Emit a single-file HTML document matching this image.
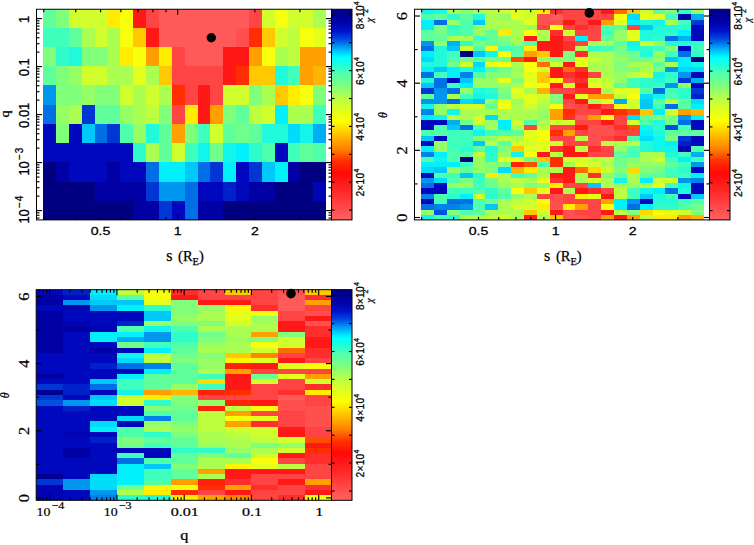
<!DOCTYPE html>
<html><head><meta charset="utf-8"><title>chi2 maps</title>
<style>html,body{margin:0;padding:0;background:#fff}svg{display:block}</style></head>
<body><svg width="754" height="545" viewBox="0 0 754 545">
<rect width="754" height="545" fill="#fff"/>
<clipPath id="c1"><rect x="36.5" y="9.25" width="295" height="210.65"/></clipPath>
<g clip-path="url(#c1)" shape-rendering="crispEdges">
<rect x="43.15" y="8.25" width="13.16" height="19.55" fill="#5fff9b"/>
<rect x="56.01" y="8.25" width="13.16" height="19.55" fill="#80ff7a"/>
<rect x="68.88" y="8.25" width="38.89" height="19.55" fill="#d0ff2d"/>
<rect x="107.47" y="8.25" width="13.16" height="19.55" fill="#ffec00"/>
<rect x="120.33" y="8.25" width="13.16" height="19.55" fill="#f8ff0c"/>
<rect x="133.2" y="8.25" width="13.16" height="19.55" fill="#ff1816"/>
<rect x="146.06" y="8.25" width="13.16" height="19.55" fill="#ff4444"/>
<rect x="158.93" y="8.25" width="90.35" height="19.55" fill="#ff5a5a"/>
<rect x="248.97" y="8.25" width="13.16" height="19.55" fill="#ff4444"/>
<rect x="261.84" y="8.25" width="13.16" height="19.55" fill="#d0ff2d"/>
<rect x="274.7" y="8.25" width="13.16" height="19.55" fill="#f8ff0c"/>
<rect x="287.57" y="8.25" width="26.03" height="19.55" fill="#d0ff2d"/>
<rect x="313.29" y="8.25" width="13.16" height="19.55" fill="#aaff50"/>
<rect x="43.15" y="27.5" width="26.03" height="19.55" fill="#3effbc"/>
<rect x="68.88" y="27.5" width="13.16" height="19.55" fill="#5fff9b"/>
<rect x="81.74" y="27.5" width="13.16" height="19.55" fill="#aaff50"/>
<rect x="94.61" y="27.5" width="13.16" height="19.55" fill="#d0ff2d"/>
<rect x="107.47" y="27.5" width="13.16" height="19.55" fill="#aaff50"/>
<rect x="120.33" y="27.5" width="13.16" height="19.55" fill="#f8ff0c"/>
<rect x="133.2" y="27.5" width="13.16" height="19.55" fill="#ffc800"/>
<rect x="146.06" y="27.5" width="13.16" height="19.55" fill="#ff1816"/>
<rect x="158.93" y="27.5" width="77.48" height="19.55" fill="#ff5a5a"/>
<rect x="236.11" y="27.5" width="13.16" height="19.55" fill="#ff4f4f"/>
<rect x="248.97" y="27.5" width="13.16" height="19.55" fill="#ff2d00"/>
<rect x="261.84" y="27.5" width="13.16" height="19.55" fill="#ffc800"/>
<rect x="274.7" y="27.5" width="13.16" height="19.55" fill="#d0ff2d"/>
<rect x="287.57" y="27.5" width="13.16" height="19.55" fill="#bdff3e"/>
<rect x="300.43" y="27.5" width="13.16" height="19.55" fill="#f8ff0c"/>
<rect x="313.29" y="27.5" width="13.16" height="19.55" fill="#e4ff1c"/>
<rect x="43.15" y="46.75" width="13.16" height="19.55" fill="#80ff7a"/>
<rect x="56.01" y="46.75" width="13.16" height="19.55" fill="#2ffccb"/>
<rect x="68.88" y="46.75" width="13.16" height="19.55" fill="#20fada"/>
<rect x="81.74" y="46.75" width="26.03" height="19.55" fill="#80ff7a"/>
<rect x="107.47" y="46.75" width="13.16" height="19.55" fill="#aaff50"/>
<rect x="120.33" y="46.75" width="13.16" height="19.55" fill="#ffec00"/>
<rect x="133.2" y="46.75" width="13.16" height="19.55" fill="#f8ff0c"/>
<rect x="146.06" y="46.75" width="13.16" height="19.55" fill="#ffa000"/>
<rect x="158.93" y="46.75" width="13.16" height="19.55" fill="#ffec00"/>
<rect x="171.79" y="46.75" width="13.16" height="19.55" fill="#ff4444"/>
<rect x="184.65" y="46.75" width="38.89" height="19.55" fill="#ff5a5a"/>
<rect x="223.25" y="46.75" width="26.03" height="19.55" fill="#ff1816"/>
<rect x="248.97" y="46.75" width="13.16" height="19.55" fill="#ffa000"/>
<rect x="261.84" y="46.75" width="13.16" height="19.55" fill="#f8ff0c"/>
<rect x="274.7" y="46.75" width="13.16" height="19.55" fill="#aaff50"/>
<rect x="287.57" y="46.75" width="13.16" height="19.55" fill="#bdff3e"/>
<rect x="300.43" y="46.75" width="26.03" height="19.55" fill="#ffa000"/>
<rect x="43.15" y="66" width="13.16" height="19.55" fill="#5fff9b"/>
<rect x="56.01" y="66" width="13.16" height="19.55" fill="#80ff7a"/>
<rect x="68.88" y="66" width="13.16" height="19.55" fill="#95ff65"/>
<rect x="81.74" y="66" width="26.03" height="19.55" fill="#d0ff2d"/>
<rect x="107.47" y="66" width="26.03" height="19.55" fill="#aaff50"/>
<rect x="133.2" y="66" width="13.16" height="19.55" fill="#e4ff1c"/>
<rect x="146.06" y="66" width="13.16" height="19.55" fill="#aaff50"/>
<rect x="158.93" y="66" width="13.16" height="19.55" fill="#ffc800"/>
<rect x="171.79" y="66" width="51.76" height="19.55" fill="#ff4444"/>
<rect x="223.25" y="66" width="13.16" height="19.55" fill="#ff1816"/>
<rect x="236.11" y="66" width="13.16" height="19.55" fill="#ff2d00"/>
<rect x="248.97" y="66" width="26.03" height="19.55" fill="#ffc800"/>
<rect x="274.7" y="66" width="13.16" height="19.55" fill="#20fada"/>
<rect x="287.57" y="66" width="13.16" height="19.55" fill="#3effbc"/>
<rect x="300.43" y="66" width="13.16" height="19.55" fill="#ffa000"/>
<rect x="313.29" y="66" width="13.16" height="19.55" fill="#ffb400"/>
<rect x="43.15" y="85.25" width="13.16" height="19.55" fill="#0096ee"/>
<rect x="56.01" y="85.25" width="26.03" height="19.55" fill="#80ff7a"/>
<rect x="81.74" y="85.25" width="13.16" height="19.55" fill="#95ff65"/>
<rect x="94.61" y="85.25" width="26.03" height="19.55" fill="#80ff7a"/>
<rect x="120.33" y="85.25" width="13.16" height="19.55" fill="#d0ff2d"/>
<rect x="133.2" y="85.25" width="13.16" height="19.55" fill="#aaff50"/>
<rect x="146.06" y="85.25" width="13.16" height="19.55" fill="#d0ff2d"/>
<rect x="158.93" y="85.25" width="13.16" height="19.55" fill="#aaff50"/>
<rect x="171.79" y="85.25" width="13.16" height="19.55" fill="#ff2d00"/>
<rect x="184.65" y="85.25" width="13.16" height="19.55" fill="#ff4444"/>
<rect x="197.52" y="85.25" width="13.16" height="19.55" fill="#ff1816"/>
<rect x="210.38" y="85.25" width="13.16" height="19.55" fill="#ff4444"/>
<rect x="223.25" y="85.25" width="26.03" height="19.55" fill="#d0ff2d"/>
<rect x="248.97" y="85.25" width="13.16" height="19.55" fill="#80ff7a"/>
<rect x="261.84" y="85.25" width="13.16" height="19.55" fill="#aaff50"/>
<rect x="274.7" y="85.25" width="13.16" height="19.55" fill="#ffc800"/>
<rect x="287.57" y="85.25" width="13.16" height="19.55" fill="#ffec00"/>
<rect x="300.43" y="85.25" width="13.16" height="19.55" fill="#f8ff0c"/>
<rect x="313.29" y="85.25" width="13.16" height="19.55" fill="#80ff7a"/>
<rect x="43.15" y="104.5" width="13.16" height="19.55" fill="#006ee4"/>
<rect x="56.01" y="104.5" width="13.16" height="19.55" fill="#95ff65"/>
<rect x="68.88" y="104.5" width="13.16" height="19.55" fill="#aaff50"/>
<rect x="81.74" y="104.5" width="13.16" height="19.55" fill="#0037d4"/>
<rect x="94.61" y="104.5" width="26.03" height="19.55" fill="#5fff9b"/>
<rect x="120.33" y="104.5" width="13.16" height="19.55" fill="#95ff65"/>
<rect x="133.2" y="104.5" width="13.16" height="19.55" fill="#aaff50"/>
<rect x="146.06" y="104.5" width="13.16" height="19.55" fill="#bdff3e"/>
<rect x="158.93" y="104.5" width="13.16" height="19.55" fill="#80ff7a"/>
<rect x="171.79" y="104.5" width="13.16" height="19.55" fill="#ff4444"/>
<rect x="184.65" y="104.5" width="13.16" height="19.55" fill="#ffec00"/>
<rect x="197.52" y="104.5" width="13.16" height="19.55" fill="#ff1816"/>
<rect x="210.38" y="104.5" width="13.16" height="19.55" fill="#ffa000"/>
<rect x="223.25" y="104.5" width="13.16" height="19.55" fill="#80ff7a"/>
<rect x="236.11" y="104.5" width="13.16" height="19.55" fill="#5fff9b"/>
<rect x="248.97" y="104.5" width="13.16" height="19.55" fill="#bdff3e"/>
<rect x="261.84" y="104.5" width="13.16" height="19.55" fill="#d0ff2d"/>
<rect x="274.7" y="104.5" width="13.16" height="19.55" fill="#02f0fc"/>
<rect x="287.57" y="104.5" width="26.03" height="19.55" fill="#aaff50"/>
<rect x="313.29" y="104.5" width="13.16" height="19.55" fill="#3effbc"/>
<rect x="43.15" y="123.75" width="13.16" height="19.55" fill="#0008be"/>
<rect x="56.01" y="123.75" width="13.16" height="19.55" fill="#80ff7a"/>
<rect x="68.88" y="123.75" width="13.16" height="19.55" fill="#0008be"/>
<rect x="81.74" y="123.75" width="13.16" height="19.55" fill="#00c8f8"/>
<rect x="94.61" y="123.75" width="13.16" height="19.55" fill="#006ee4"/>
<rect x="107.47" y="123.75" width="13.16" height="19.55" fill="#0037d4"/>
<rect x="120.33" y="123.75" width="13.16" height="19.55" fill="#4effac"/>
<rect x="133.2" y="123.75" width="13.16" height="19.55" fill="#95ff65"/>
<rect x="146.06" y="123.75" width="13.16" height="19.55" fill="#20fada"/>
<rect x="158.93" y="123.75" width="13.16" height="19.55" fill="#5fff9b"/>
<rect x="171.79" y="123.75" width="13.16" height="19.55" fill="#ffa000"/>
<rect x="184.65" y="123.75" width="13.16" height="19.55" fill="#80ff7a"/>
<rect x="197.52" y="123.75" width="13.16" height="19.55" fill="#3effbc"/>
<rect x="210.38" y="123.75" width="13.16" height="19.55" fill="#d0ff2d"/>
<rect x="223.25" y="123.75" width="13.16" height="19.55" fill="#5fff9b"/>
<rect x="236.11" y="123.75" width="13.16" height="19.55" fill="#70ff8a"/>
<rect x="248.97" y="123.75" width="13.16" height="19.55" fill="#5fff9b"/>
<rect x="261.84" y="123.75" width="26.03" height="19.55" fill="#20fada"/>
<rect x="287.57" y="123.75" width="13.16" height="19.55" fill="#01dcfa"/>
<rect x="300.43" y="123.75" width="13.16" height="19.55" fill="#11f5eb"/>
<rect x="313.29" y="123.75" width="13.16" height="19.55" fill="#00aff3"/>
<rect x="43.15" y="143" width="90.35" height="19.55" fill="#0008be"/>
<rect x="133.2" y="143" width="13.16" height="19.55" fill="#2ffccb"/>
<rect x="146.06" y="143" width="13.16" height="19.55" fill="#aaff50"/>
<rect x="158.93" y="143" width="13.16" height="19.55" fill="#5fff9b"/>
<rect x="171.79" y="143" width="13.16" height="19.55" fill="#d0ff2d"/>
<rect x="184.65" y="143" width="13.16" height="19.55" fill="#3effbc"/>
<rect x="197.52" y="143" width="13.16" height="19.55" fill="#11f5eb"/>
<rect x="210.38" y="143" width="13.16" height="19.55" fill="#70ff8a"/>
<rect x="223.25" y="143" width="13.16" height="19.55" fill="#11f5eb"/>
<rect x="236.11" y="143" width="13.16" height="19.55" fill="#02f0fc"/>
<rect x="248.97" y="143" width="13.16" height="19.55" fill="#2ffccb"/>
<rect x="261.84" y="143" width="13.16" height="19.55" fill="#4effac"/>
<rect x="274.7" y="143" width="13.16" height="19.55" fill="#0008be"/>
<rect x="287.57" y="143" width="13.16" height="19.55" fill="#3effbc"/>
<rect x="300.43" y="143" width="13.16" height="19.55" fill="#5fff9b"/>
<rect x="313.29" y="143" width="13.16" height="19.55" fill="#4effac"/>
<rect x="43.15" y="162.25" width="13.16" height="19.55" fill="#000080"/>
<rect x="56.01" y="162.25" width="13.16" height="19.55" fill="#0000a5"/>
<rect x="68.88" y="162.25" width="38.89" height="19.55" fill="#0008be"/>
<rect x="107.47" y="162.25" width="13.16" height="19.55" fill="#0000a5"/>
<rect x="120.33" y="162.25" width="26.03" height="19.55" fill="#0008be"/>
<rect x="146.06" y="162.25" width="13.16" height="19.55" fill="#006ee4"/>
<rect x="158.93" y="162.25" width="26.03" height="19.55" fill="#02f0fc"/>
<rect x="184.65" y="162.25" width="13.16" height="19.55" fill="#00c8f8"/>
<rect x="197.52" y="162.25" width="13.16" height="19.55" fill="#006ee4"/>
<rect x="210.38" y="162.25" width="13.16" height="19.55" fill="#0037d4"/>
<rect x="223.25" y="162.25" width="13.16" height="19.55" fill="#02f0fc"/>
<rect x="236.11" y="162.25" width="13.16" height="19.55" fill="#0008be"/>
<rect x="248.97" y="162.25" width="13.16" height="19.55" fill="#0037d4"/>
<rect x="261.84" y="162.25" width="13.16" height="19.55" fill="#00c8f8"/>
<rect x="274.7" y="162.25" width="13.16" height="19.55" fill="#02f0fc"/>
<rect x="287.57" y="162.25" width="13.16" height="19.55" fill="#0000a5"/>
<rect x="300.43" y="162.25" width="26.03" height="19.55" fill="#000080"/>
<rect x="43.15" y="181.5" width="51.76" height="19.55" fill="#000080"/>
<rect x="94.61" y="181.5" width="51.76" height="19.55" fill="#0000a5"/>
<rect x="146.06" y="181.5" width="13.16" height="19.55" fill="#0037d4"/>
<rect x="158.93" y="181.5" width="26.03" height="19.55" fill="#0096ee"/>
<rect x="184.65" y="181.5" width="13.16" height="19.55" fill="#006ee4"/>
<rect x="197.52" y="181.5" width="26.03" height="19.55" fill="#0008be"/>
<rect x="223.25" y="181.5" width="13.16" height="19.55" fill="#0020c9"/>
<rect x="236.11" y="181.5" width="13.16" height="19.55" fill="#0008be"/>
<rect x="248.97" y="181.5" width="26.03" height="19.55" fill="#0000a5"/>
<rect x="274.7" y="181.5" width="38.89" height="19.55" fill="#000080"/>
<rect x="313.29" y="181.5" width="13.16" height="19.55" fill="#0004b2"/>
<rect x="43.15" y="200.75" width="90.35" height="19.55" fill="#000080"/>
<rect x="133.2" y="200.75" width="26.03" height="19.55" fill="#0000a5"/>
<rect x="158.93" y="200.75" width="13.16" height="19.55" fill="#0037d4"/>
<rect x="171.79" y="200.75" width="13.16" height="19.55" fill="#0008be"/>
<rect x="184.65" y="200.75" width="13.16" height="19.55" fill="#006ee4"/>
<rect x="197.52" y="200.75" width="26.03" height="19.55" fill="#0000a5"/>
<rect x="223.25" y="200.75" width="103.21" height="19.55" fill="#000080"/>
</g>
<path d="M43.74 219.9L43.74 216.9" stroke="#000" stroke-width="1.15"/>
<path d="M43.74 9.25L43.74 12.25" stroke="#000" stroke-width="1.15"/>
<path d="M75.75 219.9L75.75 216.9" stroke="#000" stroke-width="1.15"/>
<path d="M75.75 9.25L75.75 12.25" stroke="#000" stroke-width="1.15"/>
<path d="M100.58 219.9L100.58 216.9" stroke="#000" stroke-width="1.15"/>
<path d="M100.58 9.25L100.58 12.25" stroke="#000" stroke-width="1.15"/>
<path d="M120.86 219.9L120.86 216.9" stroke="#000" stroke-width="1.15"/>
<path d="M120.86 9.25L120.86 12.25" stroke="#000" stroke-width="1.15"/>
<path d="M138.01 219.9L138.01 216.9" stroke="#000" stroke-width="1.15"/>
<path d="M138.01 9.25L138.01 12.25" stroke="#000" stroke-width="1.15"/>
<path d="M152.87 219.9L152.87 216.9" stroke="#000" stroke-width="1.15"/>
<path d="M152.87 9.25L152.87 12.25" stroke="#000" stroke-width="1.15"/>
<path d="M165.98 219.9L165.98 216.9" stroke="#000" stroke-width="1.15"/>
<path d="M165.98 9.25L165.98 12.25" stroke="#000" stroke-width="1.15"/>
<path d="M177.7 219.9L177.7 214.4" stroke="#000" stroke-width="1.15"/>
<path d="M177.7 9.25L177.7 14.75" stroke="#000" stroke-width="1.15"/>
<path d="M254.82 219.9L254.82 216.9" stroke="#000" stroke-width="1.15"/>
<path d="M254.82 9.25L254.82 12.25" stroke="#000" stroke-width="1.15"/>
<path d="M299.94 219.9L299.94 216.9" stroke="#000" stroke-width="1.15"/>
<path d="M299.94 9.25L299.94 12.25" stroke="#000" stroke-width="1.15"/>
<path d="M36.5 218.04L39.5 218.04" stroke="#000" stroke-width="1.15"/>
<path d="M331.5 218.04L328.5 218.04" stroke="#000" stroke-width="1.15"/>
<path d="M36.5 215.25L39.5 215.25" stroke="#000" stroke-width="1.15"/>
<path d="M331.5 215.25L328.5 215.25" stroke="#000" stroke-width="1.15"/>
<path d="M36.5 212.8L39.5 212.8" stroke="#000" stroke-width="1.15"/>
<path d="M331.5 212.8L328.5 212.8" stroke="#000" stroke-width="1.15"/>
<path d="M36.5 210.6L42 210.6" stroke="#000" stroke-width="1.15"/>
<path d="M331.5 210.6L326 210.6" stroke="#000" stroke-width="1.15"/>
<path d="M36.5 196.15L39.5 196.15" stroke="#000" stroke-width="1.15"/>
<path d="M331.5 196.15L328.5 196.15" stroke="#000" stroke-width="1.15"/>
<path d="M36.5 187.7L39.5 187.7" stroke="#000" stroke-width="1.15"/>
<path d="M331.5 187.7L328.5 187.7" stroke="#000" stroke-width="1.15"/>
<path d="M36.5 181.7L39.5 181.7" stroke="#000" stroke-width="1.15"/>
<path d="M331.5 181.7L328.5 181.7" stroke="#000" stroke-width="1.15"/>
<path d="M36.5 177.05L39.5 177.05" stroke="#000" stroke-width="1.15"/>
<path d="M331.5 177.05L328.5 177.05" stroke="#000" stroke-width="1.15"/>
<path d="M36.5 173.25L39.5 173.25" stroke="#000" stroke-width="1.15"/>
<path d="M331.5 173.25L328.5 173.25" stroke="#000" stroke-width="1.15"/>
<path d="M36.5 170.04L39.5 170.04" stroke="#000" stroke-width="1.15"/>
<path d="M331.5 170.04L328.5 170.04" stroke="#000" stroke-width="1.15"/>
<path d="M36.5 167.25L39.5 167.25" stroke="#000" stroke-width="1.15"/>
<path d="M331.5 167.25L328.5 167.25" stroke="#000" stroke-width="1.15"/>
<path d="M36.5 164.8L39.5 164.8" stroke="#000" stroke-width="1.15"/>
<path d="M331.5 164.8L328.5 164.8" stroke="#000" stroke-width="1.15"/>
<path d="M36.5 162.6L42 162.6" stroke="#000" stroke-width="1.15"/>
<path d="M331.5 162.6L326 162.6" stroke="#000" stroke-width="1.15"/>
<path d="M36.5 148.15L39.5 148.15" stroke="#000" stroke-width="1.15"/>
<path d="M331.5 148.15L328.5 148.15" stroke="#000" stroke-width="1.15"/>
<path d="M36.5 139.7L39.5 139.7" stroke="#000" stroke-width="1.15"/>
<path d="M331.5 139.7L328.5 139.7" stroke="#000" stroke-width="1.15"/>
<path d="M36.5 133.7L39.5 133.7" stroke="#000" stroke-width="1.15"/>
<path d="M331.5 133.7L328.5 133.7" stroke="#000" stroke-width="1.15"/>
<path d="M36.5 129.05L39.5 129.05" stroke="#000" stroke-width="1.15"/>
<path d="M331.5 129.05L328.5 129.05" stroke="#000" stroke-width="1.15"/>
<path d="M36.5 125.25L39.5 125.25" stroke="#000" stroke-width="1.15"/>
<path d="M331.5 125.25L328.5 125.25" stroke="#000" stroke-width="1.15"/>
<path d="M36.5 122.04L39.5 122.04" stroke="#000" stroke-width="1.15"/>
<path d="M331.5 122.04L328.5 122.04" stroke="#000" stroke-width="1.15"/>
<path d="M36.5 119.25L39.5 119.25" stroke="#000" stroke-width="1.15"/>
<path d="M331.5 119.25L328.5 119.25" stroke="#000" stroke-width="1.15"/>
<path d="M36.5 116.8L39.5 116.8" stroke="#000" stroke-width="1.15"/>
<path d="M331.5 116.8L328.5 116.8" stroke="#000" stroke-width="1.15"/>
<path d="M36.5 114.6L42 114.6" stroke="#000" stroke-width="1.15"/>
<path d="M331.5 114.6L326 114.6" stroke="#000" stroke-width="1.15"/>
<path d="M36.5 100.15L39.5 100.15" stroke="#000" stroke-width="1.15"/>
<path d="M331.5 100.15L328.5 100.15" stroke="#000" stroke-width="1.15"/>
<path d="M36.5 91.7L39.5 91.7" stroke="#000" stroke-width="1.15"/>
<path d="M331.5 91.7L328.5 91.7" stroke="#000" stroke-width="1.15"/>
<path d="M36.5 85.7L39.5 85.7" stroke="#000" stroke-width="1.15"/>
<path d="M331.5 85.7L328.5 85.7" stroke="#000" stroke-width="1.15"/>
<path d="M36.5 81.05L39.5 81.05" stroke="#000" stroke-width="1.15"/>
<path d="M331.5 81.05L328.5 81.05" stroke="#000" stroke-width="1.15"/>
<path d="M36.5 77.25L39.5 77.25" stroke="#000" stroke-width="1.15"/>
<path d="M331.5 77.25L328.5 77.25" stroke="#000" stroke-width="1.15"/>
<path d="M36.5 74.04L39.5 74.04" stroke="#000" stroke-width="1.15"/>
<path d="M331.5 74.04L328.5 74.04" stroke="#000" stroke-width="1.15"/>
<path d="M36.5 71.25L39.5 71.25" stroke="#000" stroke-width="1.15"/>
<path d="M331.5 71.25L328.5 71.25" stroke="#000" stroke-width="1.15"/>
<path d="M36.5 68.8L39.5 68.8" stroke="#000" stroke-width="1.15"/>
<path d="M331.5 68.8L328.5 68.8" stroke="#000" stroke-width="1.15"/>
<path d="M36.5 66.6L42 66.6" stroke="#000" stroke-width="1.15"/>
<path d="M331.5 66.6L326 66.6" stroke="#000" stroke-width="1.15"/>
<path d="M36.5 52.15L39.5 52.15" stroke="#000" stroke-width="1.15"/>
<path d="M331.5 52.15L328.5 52.15" stroke="#000" stroke-width="1.15"/>
<path d="M36.5 43.7L39.5 43.7" stroke="#000" stroke-width="1.15"/>
<path d="M331.5 43.7L328.5 43.7" stroke="#000" stroke-width="1.15"/>
<path d="M36.5 37.7L39.5 37.7" stroke="#000" stroke-width="1.15"/>
<path d="M331.5 37.7L328.5 37.7" stroke="#000" stroke-width="1.15"/>
<path d="M36.5 33.05L39.5 33.05" stroke="#000" stroke-width="1.15"/>
<path d="M331.5 33.05L328.5 33.05" stroke="#000" stroke-width="1.15"/>
<path d="M36.5 29.25L39.5 29.25" stroke="#000" stroke-width="1.15"/>
<path d="M331.5 29.25L328.5 29.25" stroke="#000" stroke-width="1.15"/>
<path d="M36.5 26.04L39.5 26.04" stroke="#000" stroke-width="1.15"/>
<path d="M331.5 26.04L328.5 26.04" stroke="#000" stroke-width="1.15"/>
<path d="M36.5 23.25L39.5 23.25" stroke="#000" stroke-width="1.15"/>
<path d="M331.5 23.25L328.5 23.25" stroke="#000" stroke-width="1.15"/>
<path d="M36.5 20.8L39.5 20.8" stroke="#000" stroke-width="1.15"/>
<path d="M331.5 20.8L328.5 20.8" stroke="#000" stroke-width="1.15"/>
<path d="M36.5 18.6L42 18.6" stroke="#000" stroke-width="1.15"/>
<path d="M331.5 18.6L326 18.6" stroke="#000" stroke-width="1.15"/>
<rect x="36.5" y="9.25" width="295" height="210.65" fill="none" stroke="#000" stroke-width="1"/>
<linearGradient id="g1" x1="0" y1="1" x2="0" y2="0">
<stop offset="0.0012" stop-color="#ff6262"/>
<stop offset="0.1130" stop-color="#ff3232"/>
<stop offset="0.2224" stop-color="#ff0808"/>
<stop offset="0.2794" stop-color="#ff3000"/>
<stop offset="0.3365" stop-color="#ff8000"/>
<stop offset="0.4031" stop-color="#ffc000"/>
<stop offset="0.4697" stop-color="#ffff00"/>
<stop offset="0.5696" stop-color="#c0ff40"/>
<stop offset="0.6361" stop-color="#80ff80"/>
<stop offset="0.6980" stop-color="#50ffb0"/>
<stop offset="0.7341" stop-color="#20ffd8"/>
<stop offset="0.7707" stop-color="#00ffff"/>
<stop offset="0.7955" stop-color="#00d0ff"/>
<stop offset="0.8264" stop-color="#0090f0"/>
<stop offset="0.8625" stop-color="#0040e0"/>
<stop offset="0.8992" stop-color="#0010c8"/>
<stop offset="0.9420" stop-color="#0000a8"/>
<stop offset="1.0000" stop-color="#000088"/>
</linearGradient>
<rect x="331.5" y="9.25" width="20.5" height="210.65" fill="url(#g1)" stroke="#000" stroke-width="1"/>
<path d="M331.5 210.1L334.5 210.1" stroke="#000" stroke-width="1.15"/>
<path d="M352 210.1L349 210.1" stroke="#000" stroke-width="1.15"/>
<path d="M331.5 182.2L334.5 182.2" stroke="#000" stroke-width="1.15"/>
<path d="M352 182.2L349 182.2" stroke="#000" stroke-width="1.15"/>
<text transform="translate(363.8 182.5) rotate(-90) scale(1 1.12)" font-size="10.2" font-family="Liberation Sans, sans-serif" text-anchor="middle" stroke="#000" stroke-width="0.25" letter-spacing="0.25">2×10<tspan font-size="7" dy="-4.2">4</tspan></text>
<path d="M331.5 154.3L334.5 154.3" stroke="#000" stroke-width="1.15"/>
<path d="M352 154.3L349 154.3" stroke="#000" stroke-width="1.15"/>
<path d="M331.5 126.4L334.5 126.4" stroke="#000" stroke-width="1.15"/>
<path d="M352 126.4L349 126.4" stroke="#000" stroke-width="1.15"/>
<text transform="translate(363.8 126.7) rotate(-90) scale(1 1.12)" font-size="10.2" font-family="Liberation Sans, sans-serif" text-anchor="middle" stroke="#000" stroke-width="0.25" letter-spacing="0.25">4×10<tspan font-size="7" dy="-4.2">4</tspan></text>
<path d="M331.5 98.5L334.5 98.5" stroke="#000" stroke-width="1.15"/>
<path d="M352 98.5L349 98.5" stroke="#000" stroke-width="1.15"/>
<path d="M331.5 70.6L334.5 70.6" stroke="#000" stroke-width="1.15"/>
<path d="M352 70.6L349 70.6" stroke="#000" stroke-width="1.15"/>
<text transform="translate(363.8 70.9) rotate(-90) scale(1 1.12)" font-size="10.2" font-family="Liberation Sans, sans-serif" text-anchor="middle" stroke="#000" stroke-width="0.25" letter-spacing="0.25">6×10<tspan font-size="7" dy="-4.2">4</tspan></text>
<path d="M331.5 42.7L334.5 42.7" stroke="#000" stroke-width="1.15"/>
<path d="M352 42.7L349 42.7" stroke="#000" stroke-width="1.15"/>
<path d="M331.5 14.8L334.5 14.8" stroke="#000" stroke-width="1.15"/>
<path d="M352 14.8L349 14.8" stroke="#000" stroke-width="1.15"/>
<text transform="translate(363.8 15.1) rotate(-90) scale(1 1.12)" font-size="10.2" font-family="Liberation Sans, sans-serif" text-anchor="middle" stroke="#000" stroke-width="0.25" letter-spacing="0.25">8×10<tspan font-size="7" dy="-4.2">4</tspan></text>
<text transform="translate(373.3 20.05) rotate(-90) scale(1 1.1)" font-size="10" font-family="Liberation Serif, serif" text-anchor="middle" stroke="#000" stroke-width="0.25"><tspan font-style="italic">χ</tspan></text>
<text transform="translate(367.6 11.05) rotate(-90) scale(1 1.1)" font-size="7" font-family="Liberation Sans, sans-serif" text-anchor="middle" stroke="#000" stroke-width="0.25">2</text>
<circle cx="211.3" cy="37.7" r="4.7" fill="#000"/>
<text transform="translate(100.58 235.3) scale(1.25 1)" font-size="11.3" font-family="Liberation Sans, sans-serif" text-anchor="middle" stroke="#000" stroke-width="0.25">0.5</text>
<text transform="translate(177.7 235.3) scale(1.25 1)" font-size="11.3" font-family="Liberation Sans, sans-serif" text-anchor="middle" stroke="#000" stroke-width="0.25">1</text>
<text transform="translate(254.82 235.3) scale(1.25 1)" font-size="11.3" font-family="Liberation Sans, sans-serif" text-anchor="middle" stroke="#000" stroke-width="0.25">2</text>
<text transform="translate(185 261.3)" font-size="14.5" font-family="Liberation Serif, serif" text-anchor="middle" stroke="#000" stroke-width="0.25" word-spacing="2"><tspan font-size="16">s</tspan> (R<tspan font-size="10.5" dy="3.8">E</tspan><tspan dy="-3.8">)</tspan></text>
<text transform="translate(29 19.3) rotate(-90) scale(1 1.08)" font-size="13" font-family="Liberation Sans, sans-serif" text-anchor="middle" stroke="#000" stroke-width="0.25">1</text>
<text transform="translate(29 67.3) rotate(-90) scale(1 1.08)" font-size="13" font-family="Liberation Sans, sans-serif" text-anchor="middle" stroke="#000" stroke-width="0.25">0.1</text>
<text transform="translate(29 115.3) rotate(-90) scale(1 1.08)" font-size="13" font-family="Liberation Sans, sans-serif" text-anchor="middle" stroke="#000" stroke-width="0.25">0.01</text>
<text transform="translate(29 161) rotate(-90) scale(1 1.08)" font-size="13" font-family="Liberation Sans, sans-serif" text-anchor="middle" stroke="#000" stroke-width="0.25">10<tspan font-size="10" dy="-5.2" dx="1" letter-spacing="1.2">−3</tspan></text>
<text transform="translate(29 209) rotate(-90) scale(1 1.08)" font-size="13" font-family="Liberation Sans, sans-serif" text-anchor="middle" stroke="#000" stroke-width="0.25">10<tspan font-size="10" dy="-5.2" dx="1" letter-spacing="1.2">−4</tspan></text>
<text transform="translate(9.1 114) rotate(-90) scale(1.25 1.12)" font-size="11.5" font-family="Liberation Serif, serif" text-anchor="middle" stroke="#000" stroke-width="0.25">q</text>
<clipPath id="c2"><rect x="414.5" y="9.25" width="295" height="210.65"/></clipPath>
<g clip-path="url(#c2)" shape-rendering="crispEdges">
<rect x="421.05" y="9.14" width="13.16" height="5.58" fill="#11f5eb"/>
<rect x="433.91" y="9.14" width="13.16" height="5.58" fill="#20fada"/>
<rect x="446.78" y="9.14" width="13.16" height="5.58" fill="#aaff50"/>
<rect x="459.64" y="9.14" width="13.16" height="5.58" fill="#80ff7a"/>
<rect x="472.51" y="9.14" width="13.16" height="5.58" fill="#aaff50"/>
<rect x="485.37" y="9.14" width="13.16" height="5.58" fill="#bdff3e"/>
<rect x="498.23" y="9.14" width="13.16" height="5.58" fill="#d0ff2d"/>
<rect x="511.1" y="9.14" width="13.16" height="5.58" fill="#e4ff1c"/>
<rect x="523.96" y="9.14" width="13.16" height="5.58" fill="#d0ff2d"/>
<rect x="536.83" y="9.14" width="13.16" height="5.58" fill="#ffec00"/>
<rect x="549.69" y="9.14" width="13.16" height="5.58" fill="#ff2e2d"/>
<rect x="562.55" y="9.14" width="38.89" height="5.58" fill="#ff4444"/>
<rect x="601.15" y="9.14" width="13.16" height="5.58" fill="#ff1816"/>
<rect x="614.01" y="9.14" width="13.16" height="5.58" fill="#ff6e00"/>
<rect x="626.87" y="9.14" width="13.16" height="5.58" fill="#ffc800"/>
<rect x="639.74" y="9.14" width="13.16" height="5.58" fill="#d0ff2d"/>
<rect x="652.6" y="9.14" width="13.16" height="5.58" fill="#5fff9b"/>
<rect x="665.47" y="9.14" width="13.16" height="5.58" fill="#80ff7a"/>
<rect x="678.33" y="9.14" width="13.16" height="5.58" fill="#2ffccb"/>
<rect x="691.19" y="9.14" width="13.16" height="5.58" fill="#95ff65"/>
<rect x="421.05" y="14.42" width="13.16" height="5.58" fill="#4effac"/>
<rect x="433.91" y="14.42" width="13.16" height="5.58" fill="#5fff9b"/>
<rect x="446.78" y="14.42" width="13.16" height="5.58" fill="#2ffccb"/>
<rect x="459.64" y="14.42" width="13.16" height="5.58" fill="#5fff9b"/>
<rect x="472.51" y="14.42" width="13.16" height="5.58" fill="#20fada"/>
<rect x="485.37" y="14.42" width="13.16" height="5.58" fill="#aaff50"/>
<rect x="498.23" y="14.42" width="13.16" height="5.58" fill="#95ff65"/>
<rect x="511.1" y="14.42" width="13.16" height="5.58" fill="#e4ff1c"/>
<rect x="523.96" y="14.42" width="13.16" height="5.58" fill="#d0ff2d"/>
<rect x="536.83" y="14.42" width="13.16" height="5.58" fill="#ff4f4f"/>
<rect x="549.69" y="14.42" width="13.16" height="5.58" fill="#ff5a5a"/>
<rect x="562.55" y="14.42" width="51.76" height="5.58" fill="#ff4444"/>
<rect x="614.01" y="14.42" width="13.16" height="5.58" fill="#f8ff0c"/>
<rect x="626.87" y="14.42" width="13.16" height="5.58" fill="#01dcfa"/>
<rect x="639.74" y="14.42" width="26.03" height="5.58" fill="#e4ff1c"/>
<rect x="665.47" y="14.42" width="13.16" height="5.58" fill="#3effbc"/>
<rect x="678.33" y="14.42" width="13.16" height="5.58" fill="#0000a5"/>
<rect x="691.19" y="14.42" width="13.16" height="5.58" fill="#00aff3"/>
<rect x="421.05" y="19.69" width="13.16" height="5.58" fill="#02f0fc"/>
<rect x="433.91" y="19.69" width="13.16" height="5.58" fill="#006ee4"/>
<rect x="446.78" y="19.69" width="13.16" height="5.58" fill="#95ff65"/>
<rect x="459.64" y="19.69" width="13.16" height="5.58" fill="#4effac"/>
<rect x="472.51" y="19.69" width="13.16" height="5.58" fill="#00c8f8"/>
<rect x="485.37" y="19.69" width="38.89" height="5.58" fill="#aaff50"/>
<rect x="523.96" y="19.69" width="13.16" height="5.58" fill="#e4ff1c"/>
<rect x="536.83" y="19.69" width="26.03" height="5.58" fill="#ff4f4f"/>
<rect x="562.55" y="19.69" width="13.16" height="5.58" fill="#ff1816"/>
<rect x="575.42" y="19.69" width="13.16" height="5.58" fill="#ff4444"/>
<rect x="588.28" y="19.69" width="13.16" height="5.58" fill="#ff1816"/>
<rect x="601.15" y="19.69" width="13.16" height="5.58" fill="#ffa000"/>
<rect x="614.01" y="19.69" width="13.16" height="5.58" fill="#e4ff1c"/>
<rect x="626.87" y="19.69" width="13.16" height="5.58" fill="#02f0fc"/>
<rect x="639.74" y="19.69" width="13.16" height="5.58" fill="#20fada"/>
<rect x="652.6" y="19.69" width="13.16" height="5.58" fill="#11f5eb"/>
<rect x="665.47" y="19.69" width="13.16" height="5.58" fill="#aaff50"/>
<rect x="678.33" y="19.69" width="13.16" height="5.58" fill="#3effbc"/>
<rect x="691.19" y="19.69" width="13.16" height="5.58" fill="#0037d4"/>
<rect x="421.05" y="24.97" width="13.16" height="5.57" fill="#02f0fc"/>
<rect x="433.91" y="24.97" width="13.16" height="5.57" fill="#80ff7a"/>
<rect x="446.78" y="24.97" width="13.16" height="5.57" fill="#2ffccb"/>
<rect x="459.64" y="24.97" width="13.16" height="5.57" fill="#4effac"/>
<rect x="472.51" y="24.97" width="13.16" height="5.57" fill="#95ff65"/>
<rect x="485.37" y="24.97" width="38.89" height="5.57" fill="#aaff50"/>
<rect x="523.96" y="24.97" width="13.16" height="5.57" fill="#95ff65"/>
<rect x="536.83" y="24.97" width="13.16" height="5.57" fill="#ff4444"/>
<rect x="549.69" y="24.97" width="13.16" height="5.57" fill="#f8ff0c"/>
<rect x="562.55" y="24.97" width="13.16" height="5.57" fill="#ff4444"/>
<rect x="575.42" y="24.97" width="13.16" height="5.57" fill="#ff2e2d"/>
<rect x="588.28" y="24.97" width="13.16" height="5.57" fill="#ff4444"/>
<rect x="601.15" y="24.97" width="13.16" height="5.57" fill="#4effac"/>
<rect x="614.01" y="24.97" width="13.16" height="5.57" fill="#5fff9b"/>
<rect x="626.87" y="24.97" width="13.16" height="5.57" fill="#ff4444"/>
<rect x="639.74" y="24.97" width="13.16" height="5.57" fill="#00c8f8"/>
<rect x="652.6" y="24.97" width="26.03" height="5.57" fill="#20fada"/>
<rect x="678.33" y="24.97" width="13.16" height="5.57" fill="#2ffccb"/>
<rect x="691.19" y="24.97" width="13.16" height="5.57" fill="#0008be"/>
<rect x="421.05" y="30.24" width="13.16" height="5.57" fill="#5fff9b"/>
<rect x="433.91" y="30.24" width="13.16" height="5.57" fill="#70ff8a"/>
<rect x="446.78" y="30.24" width="13.16" height="5.57" fill="#3effbc"/>
<rect x="459.64" y="30.24" width="13.16" height="5.57" fill="#4effac"/>
<rect x="472.51" y="30.24" width="13.16" height="5.57" fill="#95ff65"/>
<rect x="485.37" y="30.24" width="13.16" height="5.57" fill="#5fff9b"/>
<rect x="498.23" y="30.24" width="13.16" height="5.57" fill="#ffec00"/>
<rect x="511.1" y="30.24" width="13.16" height="5.57" fill="#aaff50"/>
<rect x="523.96" y="30.24" width="13.16" height="5.57" fill="#f8ff0c"/>
<rect x="536.83" y="30.24" width="13.16" height="5.57" fill="#aaff50"/>
<rect x="549.69" y="30.24" width="13.16" height="5.57" fill="#ff2e2d"/>
<rect x="562.55" y="30.24" width="13.16" height="5.57" fill="#d0ff2d"/>
<rect x="575.42" y="30.24" width="26.03" height="5.57" fill="#ff4444"/>
<rect x="601.15" y="30.24" width="13.16" height="5.57" fill="#3effbc"/>
<rect x="614.01" y="30.24" width="13.16" height="5.57" fill="#95ff65"/>
<rect x="626.87" y="30.24" width="13.16" height="5.57" fill="#e4ff1c"/>
<rect x="639.74" y="30.24" width="26.03" height="5.57" fill="#20fada"/>
<rect x="665.47" y="30.24" width="13.16" height="5.57" fill="#2ffccb"/>
<rect x="678.33" y="30.24" width="13.16" height="5.57" fill="#02f0fc"/>
<rect x="691.19" y="30.24" width="13.16" height="5.57" fill="#0008be"/>
<rect x="421.05" y="35.52" width="26.03" height="5.58" fill="#5fff9b"/>
<rect x="446.78" y="35.52" width="26.03" height="5.58" fill="#aaff50"/>
<rect x="472.51" y="35.52" width="13.16" height="5.58" fill="#3effbc"/>
<rect x="485.37" y="35.52" width="13.16" height="5.58" fill="#5fff9b"/>
<rect x="498.23" y="35.52" width="13.16" height="5.58" fill="#80ff7a"/>
<rect x="511.1" y="35.52" width="13.16" height="5.58" fill="#aaff50"/>
<rect x="523.96" y="35.52" width="13.16" height="5.58" fill="#ff1816"/>
<rect x="536.83" y="35.52" width="13.16" height="5.58" fill="#aaff50"/>
<rect x="549.69" y="35.52" width="13.16" height="5.58" fill="#ff1816"/>
<rect x="562.55" y="35.52" width="13.16" height="5.58" fill="#ff4444"/>
<rect x="575.42" y="35.52" width="13.16" height="5.58" fill="#02f0fc"/>
<rect x="588.28" y="35.52" width="13.16" height="5.58" fill="#ff4444"/>
<rect x="601.15" y="35.52" width="13.16" height="5.58" fill="#5fff9b"/>
<rect x="614.01" y="35.52" width="13.16" height="5.58" fill="#95ff65"/>
<rect x="626.87" y="35.52" width="13.16" height="5.58" fill="#e4ff1c"/>
<rect x="639.74" y="35.52" width="13.16" height="5.58" fill="#20fada"/>
<rect x="652.6" y="35.52" width="13.16" height="5.58" fill="#2ffccb"/>
<rect x="665.47" y="35.52" width="13.16" height="5.58" fill="#006ee4"/>
<rect x="678.33" y="35.52" width="13.16" height="5.58" fill="#00aff3"/>
<rect x="691.19" y="35.52" width="13.16" height="5.58" fill="#0008be"/>
<rect x="421.05" y="40.79" width="13.16" height="5.57" fill="#0096ee"/>
<rect x="433.91" y="40.79" width="13.16" height="5.57" fill="#95ff65"/>
<rect x="446.78" y="40.79" width="13.16" height="5.57" fill="#00aff3"/>
<rect x="459.64" y="40.79" width="13.16" height="5.57" fill="#2ffccb"/>
<rect x="472.51" y="40.79" width="13.16" height="5.57" fill="#80ff7a"/>
<rect x="485.37" y="40.79" width="13.16" height="5.57" fill="#5fff9b"/>
<rect x="498.23" y="40.79" width="13.16" height="5.57" fill="#70ff8a"/>
<rect x="511.1" y="40.79" width="13.16" height="5.57" fill="#95ff65"/>
<rect x="523.96" y="40.79" width="13.16" height="5.57" fill="#4effac"/>
<rect x="536.83" y="40.79" width="26.03" height="5.57" fill="#ff1816"/>
<rect x="562.55" y="40.79" width="13.16" height="5.57" fill="#ff2e2d"/>
<rect x="575.42" y="40.79" width="13.16" height="5.57" fill="#ff4444"/>
<rect x="588.28" y="40.79" width="26.03" height="5.57" fill="#aaff50"/>
<rect x="614.01" y="40.79" width="13.16" height="5.57" fill="#5fff9b"/>
<rect x="626.87" y="40.79" width="13.16" height="5.57" fill="#11f5eb"/>
<rect x="639.74" y="40.79" width="13.16" height="5.57" fill="#d0ff2d"/>
<rect x="652.6" y="40.79" width="13.16" height="5.57" fill="#95ff65"/>
<rect x="665.47" y="40.79" width="26.03" height="5.57" fill="#20fada"/>
<rect x="691.19" y="40.79" width="13.16" height="5.57" fill="#2ffccb"/>
<rect x="421.05" y="46.07" width="13.16" height="5.57" fill="#006ee4"/>
<rect x="433.91" y="46.07" width="13.16" height="5.57" fill="#20fada"/>
<rect x="446.78" y="46.07" width="13.16" height="5.57" fill="#00c8f8"/>
<rect x="459.64" y="46.07" width="13.16" height="5.57" fill="#d0ff2d"/>
<rect x="472.51" y="46.07" width="13.16" height="5.57" fill="#4effac"/>
<rect x="485.37" y="46.07" width="13.16" height="5.57" fill="#fcf606"/>
<rect x="498.23" y="46.07" width="13.16" height="5.57" fill="#3effbc"/>
<rect x="511.1" y="46.07" width="13.16" height="5.57" fill="#4effac"/>
<rect x="523.96" y="46.07" width="13.16" height="5.57" fill="#ffec00"/>
<rect x="536.83" y="46.07" width="26.03" height="5.57" fill="#ff1816"/>
<rect x="562.55" y="46.07" width="13.16" height="5.57" fill="#ff2e2d"/>
<rect x="575.42" y="46.07" width="13.16" height="5.57" fill="#aaff50"/>
<rect x="588.28" y="46.07" width="13.16" height="5.57" fill="#2ffccb"/>
<rect x="601.15" y="46.07" width="13.16" height="5.57" fill="#3effbc"/>
<rect x="614.01" y="46.07" width="13.16" height="5.57" fill="#70ff8a"/>
<rect x="626.87" y="46.07" width="13.16" height="5.57" fill="#20fada"/>
<rect x="639.74" y="46.07" width="13.16" height="5.57" fill="#2ffccb"/>
<rect x="652.6" y="46.07" width="13.16" height="5.57" fill="#3effbc"/>
<rect x="665.47" y="46.07" width="13.16" height="5.57" fill="#80ff7a"/>
<rect x="678.33" y="46.07" width="13.16" height="5.57" fill="#0008be"/>
<rect x="691.19" y="46.07" width="13.16" height="5.57" fill="#3effbc"/>
<rect x="421.05" y="51.34" width="13.16" height="5.57" fill="#02f0fc"/>
<rect x="433.91" y="51.34" width="13.16" height="5.57" fill="#20fada"/>
<rect x="446.78" y="51.34" width="13.16" height="5.57" fill="#3effbc"/>
<rect x="459.64" y="51.34" width="13.16" height="5.57" fill="#000080"/>
<rect x="472.51" y="51.34" width="13.16" height="5.57" fill="#00c8f8"/>
<rect x="485.37" y="51.34" width="13.16" height="5.57" fill="#11f5eb"/>
<rect x="498.23" y="51.34" width="13.16" height="5.57" fill="#f8ff0c"/>
<rect x="511.1" y="51.34" width="13.16" height="5.57" fill="#5fff9b"/>
<rect x="523.96" y="51.34" width="13.16" height="5.57" fill="#ffa000"/>
<rect x="536.83" y="51.34" width="13.16" height="5.57" fill="#ffc800"/>
<rect x="549.69" y="51.34" width="13.16" height="5.57" fill="#ff1816"/>
<rect x="562.55" y="51.34" width="13.16" height="5.57" fill="#80ff7a"/>
<rect x="575.42" y="51.34" width="13.16" height="5.57" fill="#ff2e2d"/>
<rect x="588.28" y="51.34" width="26.03" height="5.57" fill="#aaff50"/>
<rect x="614.01" y="51.34" width="13.16" height="5.57" fill="#80ff7a"/>
<rect x="626.87" y="51.34" width="13.16" height="5.57" fill="#70ff8a"/>
<rect x="639.74" y="51.34" width="13.16" height="5.57" fill="#20fada"/>
<rect x="652.6" y="51.34" width="13.16" height="5.57" fill="#95ff65"/>
<rect x="665.47" y="51.34" width="13.16" height="5.57" fill="#3effbc"/>
<rect x="678.33" y="51.34" width="13.16" height="5.57" fill="#006ee4"/>
<rect x="691.19" y="51.34" width="13.16" height="5.57" fill="#2ffccb"/>
<rect x="421.05" y="56.62" width="13.16" height="5.57" fill="#01dcfa"/>
<rect x="433.91" y="56.62" width="13.16" height="5.57" fill="#20fada"/>
<rect x="446.78" y="56.62" width="13.16" height="5.57" fill="#4effac"/>
<rect x="459.64" y="56.62" width="13.16" height="5.57" fill="#70ff8a"/>
<rect x="472.51" y="56.62" width="13.16" height="5.57" fill="#5fff9b"/>
<rect x="485.37" y="56.62" width="13.16" height="5.57" fill="#80ff7a"/>
<rect x="498.23" y="56.62" width="13.16" height="5.57" fill="#70ff8a"/>
<rect x="511.1" y="56.62" width="13.16" height="5.57" fill="#ff4e00"/>
<rect x="523.96" y="56.62" width="13.16" height="5.57" fill="#ff1816"/>
<rect x="536.83" y="56.62" width="13.16" height="5.57" fill="#95ff65"/>
<rect x="549.69" y="56.62" width="26.03" height="5.57" fill="#80ff7a"/>
<rect x="575.42" y="56.62" width="13.16" height="5.57" fill="#e4ff1c"/>
<rect x="588.28" y="56.62" width="13.16" height="5.57" fill="#d0ff2d"/>
<rect x="601.15" y="56.62" width="13.16" height="5.57" fill="#aaff50"/>
<rect x="614.01" y="56.62" width="13.16" height="5.57" fill="#95ff65"/>
<rect x="626.87" y="56.62" width="26.03" height="5.57" fill="#70ff8a"/>
<rect x="652.6" y="56.62" width="13.16" height="5.57" fill="#95ff65"/>
<rect x="665.47" y="56.62" width="13.16" height="5.57" fill="#00c8f8"/>
<rect x="678.33" y="56.62" width="13.16" height="5.57" fill="#02f0fc"/>
<rect x="691.19" y="56.62" width="13.16" height="5.57" fill="#000080"/>
<rect x="421.05" y="61.89" width="26.03" height="5.58" fill="#20fada"/>
<rect x="446.78" y="61.89" width="13.16" height="5.58" fill="#70ff8a"/>
<rect x="459.64" y="61.89" width="13.16" height="5.58" fill="#d0ff2d"/>
<rect x="472.51" y="61.89" width="13.16" height="5.58" fill="#01dcfa"/>
<rect x="485.37" y="61.89" width="13.16" height="5.58" fill="#e4ff1c"/>
<rect x="498.23" y="61.89" width="13.16" height="5.58" fill="#f8ff0c"/>
<rect x="511.1" y="61.89" width="13.16" height="5.58" fill="#aaff50"/>
<rect x="523.96" y="61.89" width="13.16" height="5.58" fill="#f8ff0c"/>
<rect x="536.83" y="61.89" width="13.16" height="5.58" fill="#ff6e00"/>
<rect x="549.69" y="61.89" width="13.16" height="5.58" fill="#d0ff2d"/>
<rect x="562.55" y="61.89" width="13.16" height="5.58" fill="#ff1816"/>
<rect x="575.42" y="61.89" width="13.16" height="5.58" fill="#e4ff1c"/>
<rect x="588.28" y="61.89" width="26.03" height="5.58" fill="#aaff50"/>
<rect x="614.01" y="61.89" width="13.16" height="5.58" fill="#80ff7a"/>
<rect x="626.87" y="61.89" width="26.03" height="5.58" fill="#aaff50"/>
<rect x="652.6" y="61.89" width="13.16" height="5.58" fill="#5fff9b"/>
<rect x="665.47" y="61.89" width="13.16" height="5.58" fill="#aaff50"/>
<rect x="678.33" y="61.89" width="13.16" height="5.58" fill="#02f0fc"/>
<rect x="691.19" y="61.89" width="13.16" height="5.58" fill="#11f5eb"/>
<rect x="421.05" y="67.17" width="13.16" height="5.57" fill="#02f0fc"/>
<rect x="433.91" y="67.17" width="13.16" height="5.57" fill="#00c8f8"/>
<rect x="446.78" y="67.17" width="13.16" height="5.57" fill="#02f0fc"/>
<rect x="459.64" y="67.17" width="13.16" height="5.57" fill="#20fada"/>
<rect x="472.51" y="67.17" width="13.16" height="5.57" fill="#02f0fc"/>
<rect x="485.37" y="67.17" width="13.16" height="5.57" fill="#4effac"/>
<rect x="498.23" y="67.17" width="13.16" height="5.57" fill="#70ff8a"/>
<rect x="511.1" y="67.17" width="13.16" height="5.57" fill="#95ff65"/>
<rect x="523.96" y="67.17" width="13.16" height="5.57" fill="#f8ff0c"/>
<rect x="536.83" y="67.17" width="13.16" height="5.57" fill="#d0ff2d"/>
<rect x="549.69" y="67.17" width="13.16" height="5.57" fill="#ff1816"/>
<rect x="562.55" y="67.17" width="13.16" height="5.57" fill="#ff6e00"/>
<rect x="575.42" y="67.17" width="13.16" height="5.57" fill="#ff2e2d"/>
<rect x="588.28" y="67.17" width="26.03" height="5.57" fill="#aaff50"/>
<rect x="614.01" y="67.17" width="26.03" height="5.57" fill="#80ff7a"/>
<rect x="639.74" y="67.17" width="13.16" height="5.57" fill="#aaff50"/>
<rect x="652.6" y="67.17" width="13.16" height="5.57" fill="#80ff7a"/>
<rect x="665.47" y="67.17" width="13.16" height="5.57" fill="#0096ee"/>
<rect x="678.33" y="67.17" width="26.03" height="5.57" fill="#01dcfa"/>
<rect x="421.05" y="72.44" width="13.16" height="5.58" fill="#006ee4"/>
<rect x="433.91" y="72.44" width="13.16" height="5.58" fill="#3effbc"/>
<rect x="446.78" y="72.44" width="13.16" height="5.58" fill="#02f0fc"/>
<rect x="459.64" y="72.44" width="13.16" height="5.58" fill="#0082e9"/>
<rect x="472.51" y="72.44" width="13.16" height="5.58" fill="#4effac"/>
<rect x="485.37" y="72.44" width="26.03" height="5.58" fill="#80ff7a"/>
<rect x="511.1" y="72.44" width="13.16" height="5.58" fill="#aaff50"/>
<rect x="523.96" y="72.44" width="13.16" height="5.58" fill="#e4ff1c"/>
<rect x="536.83" y="72.44" width="13.16" height="5.58" fill="#ffc800"/>
<rect x="549.69" y="72.44" width="13.16" height="5.58" fill="#ff1816"/>
<rect x="562.55" y="72.44" width="13.16" height="5.58" fill="#ff2e2d"/>
<rect x="575.42" y="72.44" width="13.16" height="5.58" fill="#ff1816"/>
<rect x="588.28" y="72.44" width="13.16" height="5.58" fill="#ff4444"/>
<rect x="601.15" y="72.44" width="13.16" height="5.58" fill="#aaff50"/>
<rect x="614.01" y="72.44" width="13.16" height="5.58" fill="#95ff65"/>
<rect x="626.87" y="72.44" width="13.16" height="5.58" fill="#bdff3e"/>
<rect x="639.74" y="72.44" width="13.16" height="5.58" fill="#d0ff2d"/>
<rect x="652.6" y="72.44" width="13.16" height="5.58" fill="#11f5eb"/>
<rect x="665.47" y="72.44" width="13.16" height="5.58" fill="#2ffccb"/>
<rect x="678.33" y="72.44" width="13.16" height="5.58" fill="#0096ee"/>
<rect x="691.19" y="72.44" width="13.16" height="5.58" fill="#0008be"/>
<rect x="421.05" y="77.72" width="13.16" height="5.58" fill="#20fada"/>
<rect x="433.91" y="77.72" width="13.16" height="5.58" fill="#006ee4"/>
<rect x="446.78" y="77.72" width="13.16" height="5.58" fill="#0008be"/>
<rect x="459.64" y="77.72" width="13.16" height="5.58" fill="#00c8f8"/>
<rect x="472.51" y="77.72" width="26.03" height="5.58" fill="#95ff65"/>
<rect x="498.23" y="77.72" width="13.16" height="5.58" fill="#e4ff1c"/>
<rect x="511.1" y="77.72" width="13.16" height="5.58" fill="#80ff7a"/>
<rect x="523.96" y="77.72" width="13.16" height="5.58" fill="#e4ff1c"/>
<rect x="536.83" y="77.72" width="13.16" height="5.58" fill="#ffc800"/>
<rect x="549.69" y="77.72" width="13.16" height="5.58" fill="#fcf606"/>
<rect x="562.55" y="77.72" width="13.16" height="5.58" fill="#ff4444"/>
<rect x="575.42" y="77.72" width="13.16" height="5.58" fill="#ff2e2d"/>
<rect x="588.28" y="77.72" width="13.16" height="5.58" fill="#d0ff2d"/>
<rect x="601.15" y="77.72" width="13.16" height="5.58" fill="#bdff3e"/>
<rect x="614.01" y="77.72" width="13.16" height="5.58" fill="#95ff65"/>
<rect x="626.87" y="77.72" width="13.16" height="5.58" fill="#3effbc"/>
<rect x="639.74" y="77.72" width="13.16" height="5.58" fill="#2ffccb"/>
<rect x="652.6" y="77.72" width="13.16" height="5.58" fill="#20fada"/>
<rect x="665.47" y="77.72" width="13.16" height="5.58" fill="#3effbc"/>
<rect x="678.33" y="77.72" width="13.16" height="5.58" fill="#0037d4"/>
<rect x="691.19" y="77.72" width="13.16" height="5.58" fill="#00aff3"/>
<rect x="421.05" y="82.99" width="13.16" height="5.57" fill="#00c8f8"/>
<rect x="433.91" y="82.99" width="13.16" height="5.57" fill="#006ee4"/>
<rect x="446.78" y="82.99" width="13.16" height="5.57" fill="#3effbc"/>
<rect x="459.64" y="82.99" width="13.16" height="5.57" fill="#02f0fc"/>
<rect x="472.51" y="82.99" width="38.89" height="5.57" fill="#95ff65"/>
<rect x="511.1" y="82.99" width="13.16" height="5.57" fill="#aaff50"/>
<rect x="523.96" y="82.99" width="26.03" height="5.57" fill="#f8ff0c"/>
<rect x="549.69" y="82.99" width="13.16" height="5.57" fill="#ff1816"/>
<rect x="562.55" y="82.99" width="13.16" height="5.57" fill="#d0ff2d"/>
<rect x="575.42" y="82.99" width="13.16" height="5.57" fill="#ff1816"/>
<rect x="588.28" y="82.99" width="13.16" height="5.57" fill="#e4ff1c"/>
<rect x="601.15" y="82.99" width="13.16" height="5.57" fill="#d0ff2d"/>
<rect x="614.01" y="82.99" width="13.16" height="5.57" fill="#5fff9b"/>
<rect x="626.87" y="82.99" width="13.16" height="5.57" fill="#3effbc"/>
<rect x="639.74" y="82.99" width="13.16" height="5.57" fill="#2ffccb"/>
<rect x="652.6" y="82.99" width="13.16" height="5.57" fill="#3effbc"/>
<rect x="665.47" y="82.99" width="13.16" height="5.57" fill="#0096ee"/>
<rect x="678.33" y="82.99" width="13.16" height="5.57" fill="#95ff65"/>
<rect x="691.19" y="82.99" width="13.16" height="5.57" fill="#0008be"/>
<rect x="421.05" y="88.27" width="13.16" height="5.58" fill="#0037d4"/>
<rect x="433.91" y="88.27" width="13.16" height="5.58" fill="#0096ee"/>
<rect x="446.78" y="88.27" width="13.16" height="5.58" fill="#006ee4"/>
<rect x="459.64" y="88.27" width="13.16" height="5.58" fill="#95ff65"/>
<rect x="472.51" y="88.27" width="13.16" height="5.58" fill="#20fada"/>
<rect x="485.37" y="88.27" width="13.16" height="5.58" fill="#2ffccb"/>
<rect x="498.23" y="88.27" width="13.16" height="5.58" fill="#80ff7a"/>
<rect x="511.1" y="88.27" width="13.16" height="5.58" fill="#e4ff1c"/>
<rect x="523.96" y="88.27" width="13.16" height="5.58" fill="#aaff50"/>
<rect x="536.83" y="88.27" width="13.16" height="5.58" fill="#ffb400"/>
<rect x="549.69" y="88.27" width="26.03" height="5.58" fill="#ff4444"/>
<rect x="575.42" y="88.27" width="26.03" height="5.58" fill="#ff2e2d"/>
<rect x="601.15" y="88.27" width="13.16" height="5.58" fill="#aaff50"/>
<rect x="614.01" y="88.27" width="26.03" height="5.58" fill="#e4ff1c"/>
<rect x="639.74" y="88.27" width="13.16" height="5.58" fill="#4effac"/>
<rect x="652.6" y="88.27" width="13.16" height="5.58" fill="#006ee4"/>
<rect x="665.47" y="88.27" width="13.16" height="5.58" fill="#3effbc"/>
<rect x="678.33" y="88.27" width="13.16" height="5.58" fill="#2ffccb"/>
<rect x="691.19" y="88.27" width="13.16" height="5.58" fill="#0037d4"/>
<rect x="421.05" y="93.54" width="13.16" height="5.58" fill="#5fff9b"/>
<rect x="433.91" y="93.54" width="13.16" height="5.58" fill="#0096ee"/>
<rect x="446.78" y="93.54" width="13.16" height="5.58" fill="#aaff50"/>
<rect x="459.64" y="93.54" width="13.16" height="5.58" fill="#3effbc"/>
<rect x="472.51" y="93.54" width="13.16" height="5.58" fill="#11f5eb"/>
<rect x="485.37" y="93.54" width="13.16" height="5.58" fill="#20fada"/>
<rect x="498.23" y="93.54" width="13.16" height="5.58" fill="#70ff8a"/>
<rect x="511.1" y="93.54" width="13.16" height="5.58" fill="#d0ff2d"/>
<rect x="523.96" y="93.54" width="13.16" height="5.58" fill="#e4ff1c"/>
<rect x="536.83" y="93.54" width="13.16" height="5.58" fill="#d0ff2d"/>
<rect x="549.69" y="93.54" width="13.16" height="5.58" fill="#80ff7a"/>
<rect x="562.55" y="93.54" width="13.16" height="5.58" fill="#ff1816"/>
<rect x="575.42" y="93.54" width="13.16" height="5.58" fill="#e4ff1c"/>
<rect x="588.28" y="93.54" width="26.03" height="5.58" fill="#ffa000"/>
<rect x="614.01" y="93.54" width="13.16" height="5.58" fill="#bdff3e"/>
<rect x="626.87" y="93.54" width="13.16" height="5.58" fill="#f8ff0c"/>
<rect x="639.74" y="93.54" width="13.16" height="5.58" fill="#01dcfa"/>
<rect x="652.6" y="93.54" width="13.16" height="5.58" fill="#11f5eb"/>
<rect x="665.47" y="93.54" width="13.16" height="5.58" fill="#4effac"/>
<rect x="678.33" y="93.54" width="13.16" height="5.58" fill="#2ffccb"/>
<rect x="691.19" y="93.54" width="13.16" height="5.58" fill="#0020c9"/>
<rect x="421.05" y="98.82" width="26.03" height="5.57" fill="#0096ee"/>
<rect x="446.78" y="98.82" width="13.16" height="5.57" fill="#006ee4"/>
<rect x="459.64" y="98.82" width="13.16" height="5.57" fill="#01dcfa"/>
<rect x="472.51" y="98.82" width="13.16" height="5.57" fill="#00c8f8"/>
<rect x="485.37" y="98.82" width="13.16" height="5.57" fill="#95ff65"/>
<rect x="498.23" y="98.82" width="13.16" height="5.57" fill="#e4ff1c"/>
<rect x="511.1" y="98.82" width="13.16" height="5.57" fill="#95ff65"/>
<rect x="523.96" y="98.82" width="13.16" height="5.57" fill="#e4ff1c"/>
<rect x="536.83" y="98.82" width="13.16" height="5.57" fill="#bdff3e"/>
<rect x="549.69" y="98.82" width="13.16" height="5.57" fill="#80ff7a"/>
<rect x="562.55" y="98.82" width="13.16" height="5.57" fill="#ff4444"/>
<rect x="575.42" y="98.82" width="13.16" height="5.57" fill="#ff1816"/>
<rect x="588.28" y="98.82" width="13.16" height="5.57" fill="#aaff50"/>
<rect x="601.15" y="98.82" width="13.16" height="5.57" fill="#e4ff1c"/>
<rect x="614.01" y="98.82" width="13.16" height="5.57" fill="#00aff3"/>
<rect x="626.87" y="98.82" width="13.16" height="5.57" fill="#d0ff2d"/>
<rect x="639.74" y="98.82" width="13.16" height="5.57" fill="#00c8f8"/>
<rect x="652.6" y="98.82" width="13.16" height="5.57" fill="#5fff9b"/>
<rect x="665.47" y="98.82" width="13.16" height="5.57" fill="#bdff3e"/>
<rect x="678.33" y="98.82" width="13.16" height="5.57" fill="#5fff9b"/>
<rect x="691.19" y="98.82" width="13.16" height="5.57" fill="#01dcfa"/>
<rect x="421.05" y="104.09" width="13.16" height="5.58" fill="#11f5eb"/>
<rect x="433.91" y="104.09" width="13.16" height="5.58" fill="#95ff65"/>
<rect x="446.78" y="104.09" width="13.16" height="5.58" fill="#bdff3e"/>
<rect x="459.64" y="104.09" width="26.03" height="5.58" fill="#d0ff2d"/>
<rect x="485.37" y="104.09" width="13.16" height="5.58" fill="#5fff9b"/>
<rect x="498.23" y="104.09" width="13.16" height="5.58" fill="#f8ff0c"/>
<rect x="511.1" y="104.09" width="13.16" height="5.58" fill="#aaff50"/>
<rect x="523.96" y="104.09" width="13.16" height="5.58" fill="#d0ff2d"/>
<rect x="536.83" y="104.09" width="13.16" height="5.58" fill="#aaff50"/>
<rect x="549.69" y="104.09" width="13.16" height="5.58" fill="#f8ff0c"/>
<rect x="562.55" y="104.09" width="13.16" height="5.58" fill="#ff4f4f"/>
<rect x="575.42" y="104.09" width="13.16" height="5.58" fill="#ff4444"/>
<rect x="588.28" y="104.09" width="13.16" height="5.58" fill="#ff1816"/>
<rect x="601.15" y="104.09" width="13.16" height="5.58" fill="#ff4444"/>
<rect x="614.01" y="104.09" width="13.16" height="5.58" fill="#fcf606"/>
<rect x="626.87" y="104.09" width="13.16" height="5.58" fill="#d0ff2d"/>
<rect x="639.74" y="104.09" width="13.16" height="5.58" fill="#00c8f8"/>
<rect x="652.6" y="104.09" width="13.16" height="5.58" fill="#3effbc"/>
<rect x="665.47" y="104.09" width="13.16" height="5.58" fill="#006ee4"/>
<rect x="678.33" y="104.09" width="13.16" height="5.58" fill="#4effac"/>
<rect x="691.19" y="104.09" width="13.16" height="5.58" fill="#02f0fc"/>
<rect x="421.05" y="109.37" width="13.16" height="5.57" fill="#0082e9"/>
<rect x="433.91" y="109.37" width="13.16" height="5.57" fill="#95ff65"/>
<rect x="446.78" y="109.37" width="13.16" height="5.57" fill="#11f5eb"/>
<rect x="459.64" y="109.37" width="77.48" height="5.57" fill="#aaff50"/>
<rect x="536.83" y="109.37" width="13.16" height="5.57" fill="#95ff65"/>
<rect x="549.69" y="109.37" width="13.16" height="5.57" fill="#ffa000"/>
<rect x="562.55" y="109.37" width="13.16" height="5.57" fill="#ff2d00"/>
<rect x="575.42" y="109.37" width="26.03" height="5.57" fill="#ff4444"/>
<rect x="601.15" y="109.37" width="13.16" height="5.57" fill="#ff1816"/>
<rect x="614.01" y="109.37" width="13.16" height="5.57" fill="#ff2d00"/>
<rect x="626.87" y="109.37" width="13.16" height="5.57" fill="#ff4e00"/>
<rect x="639.74" y="109.37" width="13.16" height="5.57" fill="#ffc800"/>
<rect x="652.6" y="109.37" width="13.16" height="5.57" fill="#02f0fc"/>
<rect x="665.47" y="109.37" width="13.16" height="5.57" fill="#d0ff2d"/>
<rect x="678.33" y="109.37" width="13.16" height="5.57" fill="#ffa000"/>
<rect x="691.19" y="109.37" width="13.16" height="5.57" fill="#ffb400"/>
<rect x="421.05" y="114.64" width="13.16" height="5.58" fill="#02f0fc"/>
<rect x="433.91" y="114.64" width="13.16" height="5.58" fill="#11f5eb"/>
<rect x="446.78" y="114.64" width="13.16" height="5.58" fill="#bdff3e"/>
<rect x="459.64" y="114.64" width="13.16" height="5.58" fill="#aaff50"/>
<rect x="472.51" y="114.64" width="13.16" height="5.58" fill="#d0ff2d"/>
<rect x="485.37" y="114.64" width="13.16" height="5.58" fill="#01dcfa"/>
<rect x="498.23" y="114.64" width="38.89" height="5.58" fill="#aaff50"/>
<rect x="536.83" y="114.64" width="13.16" height="5.58" fill="#95ff65"/>
<rect x="549.69" y="114.64" width="13.16" height="5.58" fill="#ffa000"/>
<rect x="562.55" y="114.64" width="13.16" height="5.58" fill="#ff2e2d"/>
<rect x="575.42" y="114.64" width="13.16" height="5.58" fill="#ff5a5a"/>
<rect x="588.28" y="114.64" width="13.16" height="5.58" fill="#ffa000"/>
<rect x="601.15" y="114.64" width="13.16" height="5.58" fill="#f8ff0c"/>
<rect x="614.01" y="114.64" width="13.16" height="5.58" fill="#ff4444"/>
<rect x="626.87" y="114.64" width="13.16" height="5.58" fill="#01dcfa"/>
<rect x="639.74" y="114.64" width="13.16" height="5.58" fill="#5fff9b"/>
<rect x="652.6" y="114.64" width="26.03" height="5.58" fill="#80ff7a"/>
<rect x="678.33" y="114.64" width="13.16" height="5.58" fill="#0096ee"/>
<rect x="691.19" y="114.64" width="13.16" height="5.58" fill="#02f0fc"/>
<rect x="421.05" y="119.92" width="26.03" height="5.58" fill="#0008be"/>
<rect x="446.78" y="119.92" width="13.16" height="5.58" fill="#00aff3"/>
<rect x="459.64" y="119.92" width="13.16" height="5.58" fill="#70ff8a"/>
<rect x="472.51" y="119.92" width="13.16" height="5.58" fill="#d0ff2d"/>
<rect x="485.37" y="119.92" width="13.16" height="5.58" fill="#95ff65"/>
<rect x="498.23" y="119.92" width="13.16" height="5.58" fill="#02f0fc"/>
<rect x="511.1" y="119.92" width="13.16" height="5.58" fill="#d0ff2d"/>
<rect x="523.96" y="119.92" width="13.16" height="5.58" fill="#4effac"/>
<rect x="536.83" y="119.92" width="13.16" height="5.58" fill="#aaff50"/>
<rect x="549.69" y="119.92" width="26.03" height="5.58" fill="#d0ff2d"/>
<rect x="575.42" y="119.92" width="26.03" height="5.58" fill="#ff4444"/>
<rect x="601.15" y="119.92" width="13.16" height="5.58" fill="#ff1816"/>
<rect x="614.01" y="119.92" width="13.16" height="5.58" fill="#ff4444"/>
<rect x="626.87" y="119.92" width="13.16" height="5.58" fill="#d0ff2d"/>
<rect x="639.74" y="119.92" width="13.16" height="5.58" fill="#4effac"/>
<rect x="652.6" y="119.92" width="13.16" height="5.58" fill="#20fada"/>
<rect x="665.47" y="119.92" width="13.16" height="5.58" fill="#70ff8a"/>
<rect x="678.33" y="119.92" width="13.16" height="5.58" fill="#006ee4"/>
<rect x="691.19" y="119.92" width="13.16" height="5.58" fill="#0008be"/>
<rect x="421.05" y="125.19" width="13.16" height="5.57" fill="#0008be"/>
<rect x="433.91" y="125.19" width="13.16" height="5.57" fill="#4effac"/>
<rect x="446.78" y="125.19" width="13.16" height="5.57" fill="#00c8f8"/>
<rect x="459.64" y="125.19" width="13.16" height="5.57" fill="#006ee4"/>
<rect x="472.51" y="125.19" width="13.16" height="5.57" fill="#3effbc"/>
<rect x="485.37" y="125.19" width="13.16" height="5.57" fill="#aaff50"/>
<rect x="498.23" y="125.19" width="13.16" height="5.57" fill="#02f0fc"/>
<rect x="511.1" y="125.19" width="13.16" height="5.57" fill="#aaff50"/>
<rect x="523.96" y="125.19" width="13.16" height="5.57" fill="#ff4444"/>
<rect x="536.83" y="125.19" width="13.16" height="5.57" fill="#bdff3e"/>
<rect x="549.69" y="125.19" width="26.03" height="5.57" fill="#ff4444"/>
<rect x="575.42" y="125.19" width="13.16" height="5.57" fill="#ff1816"/>
<rect x="588.28" y="125.19" width="26.03" height="5.57" fill="#ff4f4f"/>
<rect x="614.01" y="125.19" width="13.16" height="5.57" fill="#ff2e2d"/>
<rect x="626.87" y="125.19" width="13.16" height="5.57" fill="#ff4e00"/>
<rect x="639.74" y="125.19" width="13.16" height="5.57" fill="#11f5eb"/>
<rect x="652.6" y="125.19" width="13.16" height="5.57" fill="#2ffccb"/>
<rect x="665.47" y="125.19" width="13.16" height="5.57" fill="#0052dc"/>
<rect x="678.33" y="125.19" width="13.16" height="5.57" fill="#3effbc"/>
<rect x="691.19" y="125.19" width="13.16" height="5.57" fill="#0008be"/>
<rect x="421.05" y="130.47" width="26.03" height="5.58" fill="#4effac"/>
<rect x="446.78" y="130.47" width="26.03" height="5.58" fill="#3effbc"/>
<rect x="472.51" y="130.47" width="13.16" height="5.58" fill="#11f5eb"/>
<rect x="485.37" y="130.47" width="13.16" height="5.58" fill="#3effbc"/>
<rect x="498.23" y="130.47" width="13.16" height="5.58" fill="#4effac"/>
<rect x="511.1" y="130.47" width="13.16" height="5.58" fill="#5fff9b"/>
<rect x="523.96" y="130.47" width="13.16" height="5.58" fill="#e4ff1c"/>
<rect x="536.83" y="130.47" width="13.16" height="5.58" fill="#f8ff0c"/>
<rect x="549.69" y="130.47" width="13.16" height="5.58" fill="#ff2d00"/>
<rect x="562.55" y="130.47" width="13.16" height="5.58" fill="#ffa000"/>
<rect x="575.42" y="130.47" width="13.16" height="5.58" fill="#ff4444"/>
<rect x="588.28" y="130.47" width="26.03" height="5.58" fill="#ff4f4f"/>
<rect x="614.01" y="130.47" width="26.03" height="5.58" fill="#ff4444"/>
<rect x="639.74" y="130.47" width="13.16" height="5.58" fill="#02f0fc"/>
<rect x="652.6" y="130.47" width="13.16" height="5.58" fill="#20fada"/>
<rect x="665.47" y="130.47" width="38.89" height="5.58" fill="#5fff9b"/>
<rect x="421.05" y="135.74" width="13.16" height="5.57" fill="#00c8f8"/>
<rect x="433.91" y="135.74" width="13.16" height="5.57" fill="#0008be"/>
<rect x="446.78" y="135.74" width="26.03" height="5.57" fill="#3effbc"/>
<rect x="472.51" y="135.74" width="13.16" height="5.57" fill="#80ff7a"/>
<rect x="485.37" y="135.74" width="13.16" height="5.57" fill="#95ff65"/>
<rect x="498.23" y="135.74" width="13.16" height="5.57" fill="#bdff3e"/>
<rect x="511.1" y="135.74" width="13.16" height="5.57" fill="#aaff50"/>
<rect x="523.96" y="135.74" width="13.16" height="5.57" fill="#e4ff1c"/>
<rect x="536.83" y="135.74" width="13.16" height="5.57" fill="#f8ff0c"/>
<rect x="549.69" y="135.74" width="26.03" height="5.57" fill="#ff4444"/>
<rect x="575.42" y="135.74" width="13.16" height="5.57" fill="#bdff3e"/>
<rect x="588.28" y="135.74" width="13.16" height="5.57" fill="#ff4f4f"/>
<rect x="601.15" y="135.74" width="13.16" height="5.57" fill="#ff4444"/>
<rect x="614.01" y="135.74" width="13.16" height="5.57" fill="#ff2e2d"/>
<rect x="626.87" y="135.74" width="13.16" height="5.57" fill="#4effac"/>
<rect x="639.74" y="135.74" width="13.16" height="5.57" fill="#01dcfa"/>
<rect x="652.6" y="135.74" width="13.16" height="5.57" fill="#11f5eb"/>
<rect x="665.47" y="135.74" width="13.16" height="5.57" fill="#80ff7a"/>
<rect x="678.33" y="135.74" width="13.16" height="5.57" fill="#0037d4"/>
<rect x="691.19" y="135.74" width="13.16" height="5.57" fill="#0008be"/>
<rect x="421.05" y="141.01" width="13.16" height="5.58" fill="#0008be"/>
<rect x="433.91" y="141.01" width="13.16" height="5.58" fill="#95ff65"/>
<rect x="446.78" y="141.01" width="26.03" height="5.58" fill="#3effbc"/>
<rect x="472.51" y="141.01" width="13.16" height="5.58" fill="#00c8f8"/>
<rect x="485.37" y="141.01" width="13.16" height="5.58" fill="#bdff3e"/>
<rect x="498.23" y="141.01" width="13.16" height="5.58" fill="#5fff9b"/>
<rect x="511.1" y="141.01" width="26.03" height="5.58" fill="#d0ff2d"/>
<rect x="536.83" y="141.01" width="13.16" height="5.58" fill="#e4ff1c"/>
<rect x="549.69" y="141.01" width="13.16" height="5.58" fill="#d0ff2d"/>
<rect x="562.55" y="141.01" width="26.03" height="5.58" fill="#ff4444"/>
<rect x="588.28" y="141.01" width="13.16" height="5.58" fill="#ff4f4f"/>
<rect x="601.15" y="141.01" width="13.16" height="5.58" fill="#bdff3e"/>
<rect x="614.01" y="141.01" width="13.16" height="5.58" fill="#aaff50"/>
<rect x="626.87" y="141.01" width="13.16" height="5.58" fill="#bdff3e"/>
<rect x="639.74" y="141.01" width="13.16" height="5.58" fill="#20fada"/>
<rect x="652.6" y="141.01" width="13.16" height="5.58" fill="#11f5eb"/>
<rect x="665.47" y="141.01" width="13.16" height="5.58" fill="#02f0fc"/>
<rect x="678.33" y="141.01" width="13.16" height="5.58" fill="#0020c9"/>
<rect x="691.19" y="141.01" width="13.16" height="5.58" fill="#0008be"/>
<rect x="421.05" y="146.29" width="13.16" height="5.57" fill="#02f0fc"/>
<rect x="433.91" y="146.29" width="13.16" height="5.57" fill="#95ff65"/>
<rect x="446.78" y="146.29" width="13.16" height="5.57" fill="#3effbc"/>
<rect x="459.64" y="146.29" width="13.16" height="5.57" fill="#2ffccb"/>
<rect x="472.51" y="146.29" width="13.16" height="5.57" fill="#5fff9b"/>
<rect x="485.37" y="146.29" width="13.16" height="5.57" fill="#20fada"/>
<rect x="498.23" y="146.29" width="13.16" height="5.57" fill="#80ff7a"/>
<rect x="511.1" y="146.29" width="13.16" height="5.57" fill="#ffc800"/>
<rect x="523.96" y="146.29" width="26.03" height="5.57" fill="#e4ff1c"/>
<rect x="549.69" y="146.29" width="13.16" height="5.57" fill="#ff2e2d"/>
<rect x="562.55" y="146.29" width="13.16" height="5.57" fill="#ff1816"/>
<rect x="575.42" y="146.29" width="13.16" height="5.57" fill="#bdff3e"/>
<rect x="588.28" y="146.29" width="13.16" height="5.57" fill="#ff2e2d"/>
<rect x="601.15" y="146.29" width="13.16" height="5.57" fill="#ff4444"/>
<rect x="614.01" y="146.29" width="13.16" height="5.57" fill="#95ff65"/>
<rect x="626.87" y="146.29" width="13.16" height="5.57" fill="#4effac"/>
<rect x="639.74" y="146.29" width="13.16" height="5.57" fill="#20fada"/>
<rect x="652.6" y="146.29" width="26.03" height="5.57" fill="#11f5eb"/>
<rect x="678.33" y="146.29" width="13.16" height="5.57" fill="#0004b2"/>
<rect x="691.19" y="146.29" width="13.16" height="5.57" fill="#4effac"/>
<rect x="421.05" y="151.56" width="13.16" height="5.58" fill="#0082e9"/>
<rect x="433.91" y="151.56" width="13.16" height="5.58" fill="#02f0fc"/>
<rect x="446.78" y="151.56" width="26.03" height="5.58" fill="#4effac"/>
<rect x="472.51" y="151.56" width="13.16" height="5.58" fill="#bdff3e"/>
<rect x="485.37" y="151.56" width="13.16" height="5.58" fill="#2ffccb"/>
<rect x="498.23" y="151.56" width="13.16" height="5.58" fill="#95ff65"/>
<rect x="511.1" y="151.56" width="13.16" height="5.58" fill="#11f5eb"/>
<rect x="523.96" y="151.56" width="13.16" height="5.58" fill="#f8ff0c"/>
<rect x="536.83" y="151.56" width="13.16" height="5.58" fill="#ff1816"/>
<rect x="549.69" y="151.56" width="13.16" height="5.58" fill="#bdff3e"/>
<rect x="562.55" y="151.56" width="26.03" height="5.58" fill="#ff1816"/>
<rect x="588.28" y="151.56" width="26.03" height="5.58" fill="#ff4444"/>
<rect x="614.01" y="151.56" width="13.16" height="5.58" fill="#5fff9b"/>
<rect x="626.87" y="151.56" width="13.16" height="5.58" fill="#3effbc"/>
<rect x="639.74" y="151.56" width="26.03" height="5.58" fill="#aaff50"/>
<rect x="665.47" y="151.56" width="13.16" height="5.58" fill="#20fada"/>
<rect x="678.33" y="151.56" width="13.16" height="5.58" fill="#3effbc"/>
<rect x="691.19" y="151.56" width="13.16" height="5.58" fill="#00aff3"/>
<rect x="421.05" y="156.84" width="13.16" height="5.57" fill="#4effac"/>
<rect x="433.91" y="156.84" width="13.16" height="5.57" fill="#11f5eb"/>
<rect x="446.78" y="156.84" width="13.16" height="5.57" fill="#4effac"/>
<rect x="459.64" y="156.84" width="13.16" height="5.57" fill="#000080"/>
<rect x="472.51" y="156.84" width="13.16" height="5.57" fill="#95ff65"/>
<rect x="485.37" y="156.84" width="13.16" height="5.57" fill="#2ffccb"/>
<rect x="498.23" y="156.84" width="26.03" height="5.57" fill="#e4ff1c"/>
<rect x="523.96" y="156.84" width="13.16" height="5.57" fill="#70ff8a"/>
<rect x="536.83" y="156.84" width="13.16" height="5.57" fill="#ffc800"/>
<rect x="549.69" y="156.84" width="13.16" height="5.57" fill="#ff2d00"/>
<rect x="562.55" y="156.84" width="26.03" height="5.57" fill="#d0ff2d"/>
<rect x="588.28" y="156.84" width="26.03" height="5.57" fill="#bdff3e"/>
<rect x="614.01" y="156.84" width="13.16" height="5.57" fill="#70ff8a"/>
<rect x="626.87" y="156.84" width="13.16" height="5.57" fill="#80ff7a"/>
<rect x="639.74" y="156.84" width="13.16" height="5.57" fill="#aaff50"/>
<rect x="652.6" y="156.84" width="13.16" height="5.57" fill="#d0ff2d"/>
<rect x="665.47" y="156.84" width="13.16" height="5.57" fill="#3effbc"/>
<rect x="678.33" y="156.84" width="13.16" height="5.57" fill="#02f0fc"/>
<rect x="691.19" y="156.84" width="13.16" height="5.57" fill="#3effbc"/>
<rect x="421.05" y="162.12" width="38.89" height="5.57" fill="#02f0fc"/>
<rect x="459.64" y="162.12" width="13.16" height="5.57" fill="#3effbc"/>
<rect x="472.51" y="162.12" width="13.16" height="5.57" fill="#95ff65"/>
<rect x="485.37" y="162.12" width="26.03" height="5.57" fill="#80ff7a"/>
<rect x="511.1" y="162.12" width="13.16" height="5.57" fill="#ff220b"/>
<rect x="523.96" y="162.12" width="13.16" height="5.57" fill="#ff4e00"/>
<rect x="536.83" y="162.12" width="13.16" height="5.57" fill="#4effac"/>
<rect x="549.69" y="162.12" width="13.16" height="5.57" fill="#ff2d00"/>
<rect x="562.55" y="162.12" width="13.16" height="5.57" fill="#aaff50"/>
<rect x="575.42" y="162.12" width="13.16" height="5.57" fill="#e4ff1c"/>
<rect x="588.28" y="162.12" width="13.16" height="5.57" fill="#d0ff2d"/>
<rect x="601.15" y="162.12" width="13.16" height="5.57" fill="#aaff50"/>
<rect x="614.01" y="162.12" width="13.16" height="5.57" fill="#70ff8a"/>
<rect x="626.87" y="162.12" width="38.89" height="5.57" fill="#95ff65"/>
<rect x="665.47" y="162.12" width="13.16" height="5.57" fill="#5fff9b"/>
<rect x="678.33" y="162.12" width="13.16" height="5.57" fill="#3effbc"/>
<rect x="691.19" y="162.12" width="13.16" height="5.57" fill="#0096ee"/>
<rect x="421.05" y="167.39" width="13.16" height="5.58" fill="#01dcfa"/>
<rect x="433.91" y="167.39" width="13.16" height="5.58" fill="#00c8f8"/>
<rect x="446.78" y="167.39" width="13.16" height="5.58" fill="#95ff65"/>
<rect x="459.64" y="167.39" width="13.16" height="5.58" fill="#5fff9b"/>
<rect x="472.51" y="167.39" width="13.16" height="5.58" fill="#95ff65"/>
<rect x="485.37" y="167.39" width="13.16" height="5.58" fill="#80ff7a"/>
<rect x="498.23" y="167.39" width="13.16" height="5.58" fill="#01dcfa"/>
<rect x="511.1" y="167.39" width="13.16" height="5.58" fill="#ffb400"/>
<rect x="523.96" y="167.39" width="13.16" height="5.58" fill="#ffec00"/>
<rect x="536.83" y="167.39" width="26.03" height="5.58" fill="#aaff50"/>
<rect x="562.55" y="167.39" width="13.16" height="5.58" fill="#ff1816"/>
<rect x="575.42" y="167.39" width="13.16" height="5.58" fill="#ff6e00"/>
<rect x="588.28" y="167.39" width="13.16" height="5.58" fill="#ffda00"/>
<rect x="601.15" y="167.39" width="13.16" height="5.58" fill="#d0ff2d"/>
<rect x="614.01" y="167.39" width="13.16" height="5.58" fill="#80ff7a"/>
<rect x="626.87" y="167.39" width="13.16" height="5.58" fill="#ffda00"/>
<rect x="639.74" y="167.39" width="13.16" height="5.58" fill="#80ff7a"/>
<rect x="652.6" y="167.39" width="13.16" height="5.58" fill="#70ff8a"/>
<rect x="665.47" y="167.39" width="13.16" height="5.58" fill="#3effbc"/>
<rect x="678.33" y="167.39" width="13.16" height="5.58" fill="#2ffccb"/>
<rect x="691.19" y="167.39" width="13.16" height="5.58" fill="#0008be"/>
<rect x="421.05" y="172.67" width="13.16" height="5.57" fill="#0008be"/>
<rect x="433.91" y="172.67" width="13.16" height="5.57" fill="#4effac"/>
<rect x="446.78" y="172.67" width="13.16" height="5.57" fill="#3effbc"/>
<rect x="459.64" y="172.67" width="13.16" height="5.57" fill="#00c8f8"/>
<rect x="472.51" y="172.67" width="13.16" height="5.57" fill="#2ffccb"/>
<rect x="485.37" y="172.67" width="13.16" height="5.57" fill="#ffec00"/>
<rect x="498.23" y="172.67" width="13.16" height="5.57" fill="#aaff50"/>
<rect x="511.1" y="172.67" width="13.16" height="5.57" fill="#3effbc"/>
<rect x="523.96" y="172.67" width="13.16" height="5.57" fill="#5fff9b"/>
<rect x="536.83" y="172.67" width="13.16" height="5.57" fill="#aaff50"/>
<rect x="549.69" y="172.67" width="26.03" height="5.57" fill="#ff1816"/>
<rect x="575.42" y="172.67" width="13.16" height="5.57" fill="#aaff50"/>
<rect x="588.28" y="172.67" width="13.16" height="5.57" fill="#ff2e2d"/>
<rect x="601.15" y="172.67" width="13.16" height="5.57" fill="#80ff7a"/>
<rect x="614.01" y="172.67" width="13.16" height="5.57" fill="#5fff9b"/>
<rect x="626.87" y="172.67" width="13.16" height="5.57" fill="#aaff50"/>
<rect x="639.74" y="172.67" width="26.03" height="5.57" fill="#5fff9b"/>
<rect x="665.47" y="172.67" width="26.03" height="5.57" fill="#3effbc"/>
<rect x="691.19" y="172.67" width="13.16" height="5.57" fill="#02f0fc"/>
<rect x="421.05" y="177.94" width="13.16" height="5.58" fill="#0096ee"/>
<rect x="433.91" y="177.94" width="13.16" height="5.58" fill="#01dcfa"/>
<rect x="446.78" y="177.94" width="13.16" height="5.58" fill="#4effac"/>
<rect x="459.64" y="177.94" width="13.16" height="5.58" fill="#80ff7a"/>
<rect x="472.51" y="177.94" width="13.16" height="5.58" fill="#3effbc"/>
<rect x="485.37" y="177.94" width="13.16" height="5.58" fill="#70ff8a"/>
<rect x="498.23" y="177.94" width="13.16" height="5.58" fill="#aaff50"/>
<rect x="511.1" y="177.94" width="13.16" height="5.58" fill="#bdff3e"/>
<rect x="523.96" y="177.94" width="13.16" height="5.58" fill="#aaff50"/>
<rect x="536.83" y="177.94" width="13.16" height="5.58" fill="#e4ff1c"/>
<rect x="549.69" y="177.94" width="13.16" height="5.58" fill="#ff2e2d"/>
<rect x="562.55" y="177.94" width="13.16" height="5.58" fill="#ff1816"/>
<rect x="575.42" y="177.94" width="13.16" height="5.58" fill="#aaff50"/>
<rect x="588.28" y="177.94" width="13.16" height="5.58" fill="#d0ff2d"/>
<rect x="601.15" y="177.94" width="13.16" height="5.58" fill="#aaff50"/>
<rect x="614.01" y="177.94" width="13.16" height="5.58" fill="#11f5eb"/>
<rect x="626.87" y="177.94" width="13.16" height="5.58" fill="#aaff50"/>
<rect x="639.74" y="177.94" width="13.16" height="5.58" fill="#02f0fc"/>
<rect x="652.6" y="177.94" width="26.03" height="5.58" fill="#d0ff2d"/>
<rect x="678.33" y="177.94" width="13.16" height="5.58" fill="#0096ee"/>
<rect x="691.19" y="177.94" width="13.16" height="5.58" fill="#0082e9"/>
<rect x="421.05" y="183.22" width="13.16" height="5.57" fill="#006ee4"/>
<rect x="433.91" y="183.22" width="13.16" height="5.57" fill="#0008be"/>
<rect x="446.78" y="183.22" width="26.03" height="5.57" fill="#95ff65"/>
<rect x="472.51" y="183.22" width="13.16" height="5.57" fill="#3effbc"/>
<rect x="485.37" y="183.22" width="13.16" height="5.57" fill="#70ff8a"/>
<rect x="498.23" y="183.22" width="13.16" height="5.57" fill="#95ff65"/>
<rect x="511.1" y="183.22" width="13.16" height="5.57" fill="#aaff50"/>
<rect x="523.96" y="183.22" width="13.16" height="5.57" fill="#80ff7a"/>
<rect x="536.83" y="183.22" width="13.16" height="5.57" fill="#95ff65"/>
<rect x="549.69" y="183.22" width="13.16" height="5.57" fill="#ffec00"/>
<rect x="562.55" y="183.22" width="26.03" height="5.57" fill="#ff4444"/>
<rect x="588.28" y="183.22" width="13.16" height="5.57" fill="#00c8f8"/>
<rect x="601.15" y="183.22" width="13.16" height="5.57" fill="#aaff50"/>
<rect x="614.01" y="183.22" width="26.03" height="5.57" fill="#95ff65"/>
<rect x="639.74" y="183.22" width="13.16" height="5.57" fill="#aaff50"/>
<rect x="652.6" y="183.22" width="13.16" height="5.57" fill="#e4ff1c"/>
<rect x="665.47" y="183.22" width="13.16" height="5.57" fill="#3effbc"/>
<rect x="678.33" y="183.22" width="13.16" height="5.57" fill="#11f5eb"/>
<rect x="691.19" y="183.22" width="13.16" height="5.57" fill="#0008be"/>
<rect x="421.05" y="188.49" width="26.03" height="5.57" fill="#0008be"/>
<rect x="446.78" y="188.49" width="26.03" height="5.57" fill="#3effbc"/>
<rect x="472.51" y="188.49" width="13.16" height="5.57" fill="#4effac"/>
<rect x="485.37" y="188.49" width="13.16" height="5.57" fill="#2ffccb"/>
<rect x="498.23" y="188.49" width="13.16" height="5.57" fill="#5fff9b"/>
<rect x="511.1" y="188.49" width="13.16" height="5.57" fill="#f8ff0c"/>
<rect x="523.96" y="188.49" width="13.16" height="5.57" fill="#ffc800"/>
<rect x="536.83" y="188.49" width="13.16" height="5.57" fill="#e4ff1c"/>
<rect x="549.69" y="188.49" width="13.16" height="5.57" fill="#ff1816"/>
<rect x="562.55" y="188.49" width="13.16" height="5.57" fill="#aaff50"/>
<rect x="575.42" y="188.49" width="13.16" height="5.57" fill="#ff1816"/>
<rect x="588.28" y="188.49" width="13.16" height="5.57" fill="#ff2e2d"/>
<rect x="601.15" y="188.49" width="13.16" height="5.57" fill="#ff4444"/>
<rect x="614.01" y="188.49" width="13.16" height="5.57" fill="#bdff3e"/>
<rect x="626.87" y="188.49" width="13.16" height="5.57" fill="#3effbc"/>
<rect x="639.74" y="188.49" width="13.16" height="5.57" fill="#11f5eb"/>
<rect x="652.6" y="188.49" width="13.16" height="5.57" fill="#02f0fc"/>
<rect x="665.47" y="188.49" width="13.16" height="5.57" fill="#006ee4"/>
<rect x="678.33" y="188.49" width="13.16" height="5.57" fill="#20fada"/>
<rect x="691.19" y="188.49" width="13.16" height="5.57" fill="#0008be"/>
<rect x="421.05" y="193.76" width="13.16" height="5.58" fill="#0082e9"/>
<rect x="433.91" y="193.76" width="13.16" height="5.58" fill="#4effac"/>
<rect x="446.78" y="193.76" width="13.16" height="5.58" fill="#2ffccb"/>
<rect x="459.64" y="193.76" width="13.16" height="5.58" fill="#02f0fc"/>
<rect x="472.51" y="193.76" width="13.16" height="5.58" fill="#d0ff2d"/>
<rect x="485.37" y="193.76" width="13.16" height="5.58" fill="#2ffccb"/>
<rect x="498.23" y="193.76" width="13.16" height="5.58" fill="#4effac"/>
<rect x="511.1" y="193.76" width="13.16" height="5.58" fill="#95ff65"/>
<rect x="523.96" y="193.76" width="13.16" height="5.58" fill="#aaff50"/>
<rect x="536.83" y="193.76" width="13.16" height="5.58" fill="#ff4444"/>
<rect x="549.69" y="193.76" width="13.16" height="5.58" fill="#ff4f4f"/>
<rect x="562.55" y="193.76" width="13.16" height="5.58" fill="#ff4444"/>
<rect x="575.42" y="193.76" width="13.16" height="5.58" fill="#ffec00"/>
<rect x="588.28" y="193.76" width="13.16" height="5.58" fill="#e4ff1c"/>
<rect x="601.15" y="193.76" width="13.16" height="5.58" fill="#ff1816"/>
<rect x="614.01" y="193.76" width="13.16" height="5.58" fill="#bdff3e"/>
<rect x="626.87" y="193.76" width="13.16" height="5.58" fill="#3effbc"/>
<rect x="639.74" y="193.76" width="13.16" height="5.58" fill="#00c8f8"/>
<rect x="652.6" y="193.76" width="13.16" height="5.58" fill="#20fada"/>
<rect x="665.47" y="193.76" width="13.16" height="5.58" fill="#3effbc"/>
<rect x="678.33" y="193.76" width="13.16" height="5.58" fill="#0008be"/>
<rect x="691.19" y="193.76" width="13.16" height="5.58" fill="#00c8f8"/>
<rect x="421.05" y="199.04" width="13.16" height="5.57" fill="#0008be"/>
<rect x="433.91" y="199.04" width="13.16" height="5.57" fill="#3effbc"/>
<rect x="446.78" y="199.04" width="26.03" height="5.57" fill="#006ee4"/>
<rect x="472.51" y="199.04" width="13.16" height="5.57" fill="#4effac"/>
<rect x="485.37" y="199.04" width="13.16" height="5.57" fill="#70ff8a"/>
<rect x="498.23" y="199.04" width="13.16" height="5.57" fill="#aaff50"/>
<rect x="511.1" y="199.04" width="13.16" height="5.57" fill="#bdff3e"/>
<rect x="523.96" y="199.04" width="13.16" height="5.57" fill="#d0ff2d"/>
<rect x="536.83" y="199.04" width="13.16" height="5.57" fill="#f8ff0c"/>
<rect x="549.69" y="199.04" width="13.16" height="5.57" fill="#ff4f4f"/>
<rect x="562.55" y="199.04" width="38.89" height="5.57" fill="#ff4444"/>
<rect x="601.15" y="199.04" width="13.16" height="5.57" fill="#ffa000"/>
<rect x="614.01" y="199.04" width="13.16" height="5.57" fill="#02f0fc"/>
<rect x="626.87" y="199.04" width="13.16" height="5.57" fill="#0096ee"/>
<rect x="639.74" y="199.04" width="13.16" height="5.57" fill="#0008be"/>
<rect x="652.6" y="199.04" width="26.03" height="5.57" fill="#20fada"/>
<rect x="678.33" y="199.04" width="13.16" height="5.57" fill="#3effbc"/>
<rect x="691.19" y="199.04" width="13.16" height="5.57" fill="#4effac"/>
<rect x="421.05" y="204.31" width="13.16" height="5.58" fill="#006ee4"/>
<rect x="433.91" y="204.31" width="26.03" height="5.58" fill="#0082e9"/>
<rect x="459.64" y="204.31" width="13.16" height="5.58" fill="#0096ee"/>
<rect x="472.51" y="204.31" width="13.16" height="5.58" fill="#4effac"/>
<rect x="485.37" y="204.31" width="13.16" height="5.58" fill="#00c8f8"/>
<rect x="498.23" y="204.31" width="13.16" height="5.58" fill="#aaff50"/>
<rect x="511.1" y="204.31" width="26.03" height="5.58" fill="#d0ff2d"/>
<rect x="536.83" y="204.31" width="13.16" height="5.58" fill="#ffec00"/>
<rect x="549.69" y="204.31" width="13.16" height="5.58" fill="#ff4f4f"/>
<rect x="562.55" y="204.31" width="13.16" height="5.58" fill="#ffec00"/>
<rect x="575.42" y="204.31" width="13.16" height="5.58" fill="#ffa000"/>
<rect x="588.28" y="204.31" width="13.16" height="5.58" fill="#ff4444"/>
<rect x="601.15" y="204.31" width="13.16" height="5.58" fill="#f8ff0c"/>
<rect x="614.01" y="204.31" width="13.16" height="5.58" fill="#02f0fc"/>
<rect x="626.87" y="204.31" width="13.16" height="5.58" fill="#006ee4"/>
<rect x="639.74" y="204.31" width="13.16" height="5.58" fill="#02f0fc"/>
<rect x="652.6" y="204.31" width="26.03" height="5.58" fill="#2ffccb"/>
<rect x="678.33" y="204.31" width="13.16" height="5.58" fill="#4effac"/>
<rect x="691.19" y="204.31" width="13.16" height="5.58" fill="#70ff8a"/>
<rect x="421.05" y="209.59" width="13.16" height="5.57" fill="#95ff65"/>
<rect x="433.91" y="209.59" width="13.16" height="5.57" fill="#0052dc"/>
<rect x="446.78" y="209.59" width="13.16" height="5.57" fill="#80ff7a"/>
<rect x="459.64" y="209.59" width="13.16" height="5.57" fill="#4effac"/>
<rect x="472.51" y="209.59" width="13.16" height="5.57" fill="#5fff9b"/>
<rect x="485.37" y="209.59" width="38.89" height="5.57" fill="#aaff50"/>
<rect x="523.96" y="209.59" width="13.16" height="5.57" fill="#ffc800"/>
<rect x="536.83" y="209.59" width="13.16" height="5.57" fill="#d0ff2d"/>
<rect x="549.69" y="209.59" width="13.16" height="5.57" fill="#ff1816"/>
<rect x="562.55" y="209.59" width="13.16" height="5.57" fill="#ff4f4f"/>
<rect x="575.42" y="209.59" width="26.03" height="5.57" fill="#ff4444"/>
<rect x="601.15" y="209.59" width="13.16" height="5.57" fill="#ff1816"/>
<rect x="614.01" y="209.59" width="13.16" height="5.57" fill="#bdff3e"/>
<rect x="626.87" y="209.59" width="13.16" height="5.57" fill="#80ff7a"/>
<rect x="639.74" y="209.59" width="13.16" height="5.57" fill="#ffda00"/>
<rect x="652.6" y="209.59" width="13.16" height="5.57" fill="#f8ff0c"/>
<rect x="665.47" y="209.59" width="13.16" height="5.57" fill="#e4ff1c"/>
<rect x="678.33" y="209.59" width="13.16" height="5.57" fill="#d0ff2d"/>
<rect x="691.19" y="209.59" width="13.16" height="5.57" fill="#80ff7a"/>
<rect x="421.05" y="214.87" width="13.16" height="5.57" fill="#11f5eb"/>
<rect x="433.91" y="214.87" width="13.16" height="5.57" fill="#3effbc"/>
<rect x="446.78" y="214.87" width="13.16" height="5.57" fill="#2ffccb"/>
<rect x="459.64" y="214.87" width="26.03" height="5.57" fill="#aaff50"/>
<rect x="485.37" y="214.87" width="13.16" height="5.57" fill="#bdff3e"/>
<rect x="498.23" y="214.87" width="13.16" height="5.57" fill="#d0ff2d"/>
<rect x="511.1" y="214.87" width="13.16" height="5.57" fill="#aaff50"/>
<rect x="523.96" y="214.87" width="13.16" height="5.57" fill="#ff1816"/>
<rect x="536.83" y="214.87" width="13.16" height="5.57" fill="#aaff50"/>
<rect x="549.69" y="214.87" width="13.16" height="5.57" fill="#ffc800"/>
<rect x="562.55" y="214.87" width="26.03" height="5.57" fill="#ff4f4f"/>
<rect x="588.28" y="214.87" width="13.16" height="5.57" fill="#ff4444"/>
<rect x="601.15" y="214.87" width="13.16" height="5.57" fill="#ffa000"/>
<rect x="614.01" y="214.87" width="13.16" height="5.57" fill="#ff1816"/>
<rect x="626.87" y="214.87" width="13.16" height="5.57" fill="#ffa000"/>
<rect x="639.74" y="214.87" width="13.16" height="5.57" fill="#bdff3e"/>
<rect x="652.6" y="214.87" width="26.03" height="5.57" fill="#ffec00"/>
<rect x="678.33" y="214.87" width="13.16" height="5.57" fill="#ffa000"/>
<rect x="691.19" y="214.87" width="13.16" height="5.57" fill="#ffb400"/>
</g>
<path d="M421.64 219.9L421.64 216.9" stroke="#000" stroke-width="1.15"/>
<path d="M421.64 9.25L421.64 12.25" stroke="#000" stroke-width="1.15"/>
<path d="M453.65 219.9L453.65 216.9" stroke="#000" stroke-width="1.15"/>
<path d="M453.65 9.25L453.65 12.25" stroke="#000" stroke-width="1.15"/>
<path d="M478.48 219.9L478.48 216.9" stroke="#000" stroke-width="1.15"/>
<path d="M478.48 9.25L478.48 12.25" stroke="#000" stroke-width="1.15"/>
<path d="M498.76 219.9L498.76 216.9" stroke="#000" stroke-width="1.15"/>
<path d="M498.76 9.25L498.76 12.25" stroke="#000" stroke-width="1.15"/>
<path d="M515.91 219.9L515.91 216.9" stroke="#000" stroke-width="1.15"/>
<path d="M515.91 9.25L515.91 12.25" stroke="#000" stroke-width="1.15"/>
<path d="M530.77 219.9L530.77 216.9" stroke="#000" stroke-width="1.15"/>
<path d="M530.77 9.25L530.77 12.25" stroke="#000" stroke-width="1.15"/>
<path d="M543.88 219.9L543.88 216.9" stroke="#000" stroke-width="1.15"/>
<path d="M543.88 9.25L543.88 12.25" stroke="#000" stroke-width="1.15"/>
<path d="M555.6 219.9L555.6 214.4" stroke="#000" stroke-width="1.15"/>
<path d="M555.6 9.25L555.6 14.75" stroke="#000" stroke-width="1.15"/>
<path d="M632.72 219.9L632.72 216.9" stroke="#000" stroke-width="1.15"/>
<path d="M632.72 9.25L632.72 12.25" stroke="#000" stroke-width="1.15"/>
<path d="M677.84 219.9L677.84 216.9" stroke="#000" stroke-width="1.15"/>
<path d="M677.84 9.25L677.84 12.25" stroke="#000" stroke-width="1.15"/>
<path d="M414.5 217.5L420 217.5" stroke="#000" stroke-width="1.15"/>
<path d="M709.5 217.5L704 217.5" stroke="#000" stroke-width="1.15"/>
<path d="M414.5 183.92L417.5 183.92" stroke="#000" stroke-width="1.15"/>
<path d="M709.5 183.92L706.5 183.92" stroke="#000" stroke-width="1.15"/>
<path d="M414.5 150.34L420 150.34" stroke="#000" stroke-width="1.15"/>
<path d="M709.5 150.34L704 150.34" stroke="#000" stroke-width="1.15"/>
<path d="M414.5 116.76L417.5 116.76" stroke="#000" stroke-width="1.15"/>
<path d="M709.5 116.76L706.5 116.76" stroke="#000" stroke-width="1.15"/>
<path d="M414.5 83.18L420 83.18" stroke="#000" stroke-width="1.15"/>
<path d="M709.5 83.18L704 83.18" stroke="#000" stroke-width="1.15"/>
<path d="M414.5 49.6L417.5 49.6" stroke="#000" stroke-width="1.15"/>
<path d="M709.5 49.6L706.5 49.6" stroke="#000" stroke-width="1.15"/>
<path d="M414.5 16.02L420 16.02" stroke="#000" stroke-width="1.15"/>
<path d="M709.5 16.02L704 16.02" stroke="#000" stroke-width="1.15"/>
<rect x="414.5" y="9.25" width="295" height="210.65" fill="none" stroke="#000" stroke-width="1"/>
<linearGradient id="g2" x1="0" y1="1" x2="0" y2="0">
<stop offset="0.0012" stop-color="#ff6262"/>
<stop offset="0.1130" stop-color="#ff3232"/>
<stop offset="0.2224" stop-color="#ff0808"/>
<stop offset="0.2794" stop-color="#ff3000"/>
<stop offset="0.3365" stop-color="#ff8000"/>
<stop offset="0.4031" stop-color="#ffc000"/>
<stop offset="0.4697" stop-color="#ffff00"/>
<stop offset="0.5696" stop-color="#c0ff40"/>
<stop offset="0.6361" stop-color="#80ff80"/>
<stop offset="0.6980" stop-color="#50ffb0"/>
<stop offset="0.7341" stop-color="#20ffd8"/>
<stop offset="0.7707" stop-color="#00ffff"/>
<stop offset="0.7955" stop-color="#00d0ff"/>
<stop offset="0.8264" stop-color="#0090f0"/>
<stop offset="0.8625" stop-color="#0040e0"/>
<stop offset="0.8992" stop-color="#0010c8"/>
<stop offset="0.9420" stop-color="#0000a8"/>
<stop offset="1.0000" stop-color="#000088"/>
</linearGradient>
<rect x="709.5" y="9.25" width="20.5" height="210.65" fill="url(#g2)" stroke="#000" stroke-width="1"/>
<path d="M709.5 210.6L712.5 210.6" stroke="#000" stroke-width="1.15"/>
<path d="M730 210.6L727 210.6" stroke="#000" stroke-width="1.15"/>
<path d="M709.5 182.7L712.5 182.7" stroke="#000" stroke-width="1.15"/>
<path d="M730 182.7L727 182.7" stroke="#000" stroke-width="1.15"/>
<text transform="translate(741.8 183) rotate(-90) scale(1 1.12)" font-size="10.2" font-family="Liberation Sans, sans-serif" text-anchor="middle" stroke="#000" stroke-width="0.25" letter-spacing="0.25">2×10<tspan font-size="7" dy="-4.2">4</tspan></text>
<path d="M709.5 154.8L712.5 154.8" stroke="#000" stroke-width="1.15"/>
<path d="M730 154.8L727 154.8" stroke="#000" stroke-width="1.15"/>
<path d="M709.5 126.9L712.5 126.9" stroke="#000" stroke-width="1.15"/>
<path d="M730 126.9L727 126.9" stroke="#000" stroke-width="1.15"/>
<text transform="translate(741.8 127.2) rotate(-90) scale(1 1.12)" font-size="10.2" font-family="Liberation Sans, sans-serif" text-anchor="middle" stroke="#000" stroke-width="0.25" letter-spacing="0.25">4×10<tspan font-size="7" dy="-4.2">4</tspan></text>
<path d="M709.5 99L712.5 99" stroke="#000" stroke-width="1.15"/>
<path d="M730 99L727 99" stroke="#000" stroke-width="1.15"/>
<path d="M709.5 71.1L712.5 71.1" stroke="#000" stroke-width="1.15"/>
<path d="M730 71.1L727 71.1" stroke="#000" stroke-width="1.15"/>
<text transform="translate(741.8 71.4) rotate(-90) scale(1 1.12)" font-size="10.2" font-family="Liberation Sans, sans-serif" text-anchor="middle" stroke="#000" stroke-width="0.25" letter-spacing="0.25">6×10<tspan font-size="7" dy="-4.2">4</tspan></text>
<path d="M709.5 43.2L712.5 43.2" stroke="#000" stroke-width="1.15"/>
<path d="M730 43.2L727 43.2" stroke="#000" stroke-width="1.15"/>
<path d="M709.5 15.3L712.5 15.3" stroke="#000" stroke-width="1.15"/>
<path d="M730 15.3L727 15.3" stroke="#000" stroke-width="1.15"/>
<text transform="translate(741.8 15.6) rotate(-90) scale(1 1.12)" font-size="10.2" font-family="Liberation Sans, sans-serif" text-anchor="middle" stroke="#000" stroke-width="0.25" letter-spacing="0.25">8×10<tspan font-size="7" dy="-4.2">4</tspan></text>
<text transform="translate(751.3 20.05) rotate(-90) scale(1 1.1)" font-size="10" font-family="Liberation Serif, serif" text-anchor="middle" stroke="#000" stroke-width="0.25"><tspan font-style="italic">χ</tspan></text>
<text transform="translate(745.6 11.05) rotate(-90) scale(1 1.1)" font-size="7" font-family="Liberation Sans, sans-serif" text-anchor="middle" stroke="#000" stroke-width="0.25">2</text>
<circle cx="589.3" cy="12.9" r="4.8" fill="#000"/>
<text transform="translate(478.48 235.3) scale(1.25 1)" font-size="11.3" font-family="Liberation Sans, sans-serif" text-anchor="middle" stroke="#000" stroke-width="0.25">0.5</text>
<text transform="translate(555.6 235.3) scale(1.25 1)" font-size="11.3" font-family="Liberation Sans, sans-serif" text-anchor="middle" stroke="#000" stroke-width="0.25">1</text>
<text transform="translate(632.72 235.3) scale(1.25 1)" font-size="11.3" font-family="Liberation Sans, sans-serif" text-anchor="middle" stroke="#000" stroke-width="0.25">2</text>
<text transform="translate(562.9 261.3)" font-size="14.5" font-family="Liberation Serif, serif" text-anchor="middle" stroke="#000" stroke-width="0.25" word-spacing="2"><tspan font-size="16">s</tspan> (R<tspan font-size="10.5" dy="3.8">E</tspan><tspan dy="-3.8">)</tspan></text>
<text transform="translate(406.5 217.7) rotate(-90) scale(1.3 1.2)" font-size="12.5" font-family="Liberation Serif, serif" text-anchor="middle" stroke="#000" stroke-width="0.2">0</text>
<text transform="translate(406.5 150.54) rotate(-90) scale(1.3 1.2)" font-size="12.5" font-family="Liberation Serif, serif" text-anchor="middle" stroke="#000" stroke-width="0.2">2</text>
<text transform="translate(406.5 83.38) rotate(-90) scale(1.3 1.2)" font-size="12.5" font-family="Liberation Serif, serif" text-anchor="middle" stroke="#000" stroke-width="0.2">4</text>
<text transform="translate(406.5 16.22) rotate(-90) scale(1.3 1.2)" font-size="12.5" font-family="Liberation Serif, serif" text-anchor="middle" stroke="#000" stroke-width="0.2">6</text>
<text transform="translate(387.3 115) rotate(-90) scale(1 1.05)" font-size="12" font-family="Liberation Serif, serif" text-anchor="middle" stroke="#000" stroke-width="0.25" font-style="italic">θ</text>
<clipPath id="c3"><rect x="36.2" y="289.65" width="295.3" height="210.65"/></clipPath>
<g clip-path="url(#c3)" shape-rendering="crispEdges">
<rect x="36.2" y="289.54" width="27.2" height="5.57" fill="#0008be"/>
<rect x="63.1" y="289.54" width="27.2" height="5.57" fill="#0020c9"/>
<rect x="90" y="289.54" width="27.2" height="5.57" fill="#02f0fc"/>
<rect x="116.9" y="289.54" width="27.2" height="5.57" fill="#bdff3e"/>
<rect x="143.8" y="289.54" width="27.2" height="5.57" fill="#f8ff0c"/>
<rect x="170.7" y="289.54" width="27.2" height="5.57" fill="#ff2e2d"/>
<rect x="197.6" y="289.54" width="27.2" height="5.57" fill="#ff4444"/>
<rect x="224.5" y="289.54" width="27.2" height="5.57" fill="#ffc800"/>
<rect x="251.4" y="289.54" width="27.2" height="5.57" fill="#ff4444"/>
<rect x="278.3" y="289.54" width="27.2" height="5.57" fill="#ff4f4f"/>
<rect x="305.2" y="289.54" width="27.2" height="5.57" fill="#ffc800"/>
<rect x="36.2" y="294.81" width="27.2" height="5.58" fill="#0000a5"/>
<rect x="63.1" y="294.81" width="27.2" height="5.58" fill="#0008be"/>
<rect x="90" y="294.81" width="27.2" height="5.58" fill="#01dcfa"/>
<rect x="116.9" y="294.81" width="27.2" height="5.58" fill="#5fff9b"/>
<rect x="143.8" y="294.81" width="27.2" height="5.58" fill="#f8ff0c"/>
<rect x="170.7" y="294.81" width="27.2" height="5.58" fill="#ff1816"/>
<rect x="197.6" y="294.81" width="81" height="5.58" fill="#ff4444"/>
<rect x="278.3" y="294.81" width="27.2" height="5.58" fill="#ff5a5a"/>
<rect x="305.2" y="294.81" width="27.2" height="5.58" fill="#ff2e2d"/>
<rect x="36.2" y="300.09" width="27.2" height="5.57" fill="#0000a5"/>
<rect x="63.1" y="300.09" width="27.2" height="5.57" fill="#0096ee"/>
<rect x="90" y="300.09" width="54.1" height="5.57" fill="#00c8f8"/>
<rect x="143.8" y="300.09" width="27.2" height="5.57" fill="#e4ff1c"/>
<rect x="170.7" y="300.09" width="27.2" height="5.57" fill="#80ff7a"/>
<rect x="197.6" y="300.09" width="54.1" height="5.57" fill="#ff1816"/>
<rect x="251.4" y="300.09" width="27.2" height="5.57" fill="#ff4444"/>
<rect x="278.3" y="300.09" width="27.2" height="5.57" fill="#ff5a5a"/>
<rect x="305.2" y="300.09" width="27.2" height="5.57" fill="#ffa000"/>
<rect x="36.2" y="305.36" width="27.2" height="5.58" fill="#0008be"/>
<rect x="63.1" y="305.36" width="27.2" height="5.58" fill="#0004b2"/>
<rect x="90" y="305.36" width="27.2" height="5.58" fill="#0096ee"/>
<rect x="116.9" y="305.36" width="27.2" height="5.58" fill="#02f0fc"/>
<rect x="143.8" y="305.36" width="27.2" height="5.58" fill="#2ffccb"/>
<rect x="170.7" y="305.36" width="27.2" height="5.58" fill="#80ff7a"/>
<rect x="197.6" y="305.36" width="27.2" height="5.58" fill="#95ff65"/>
<rect x="224.5" y="305.36" width="27.2" height="5.58" fill="#fcf606"/>
<rect x="251.4" y="305.36" width="27.2" height="5.58" fill="#ff2e2d"/>
<rect x="278.3" y="305.36" width="27.2" height="5.58" fill="#ff5a5a"/>
<rect x="305.2" y="305.36" width="27.2" height="5.58" fill="#ff4444"/>
<rect x="36.2" y="310.64" width="27.2" height="5.57" fill="#0000a5"/>
<rect x="63.1" y="310.64" width="81" height="5.57" fill="#0008be"/>
<rect x="143.8" y="310.64" width="27.2" height="5.57" fill="#00c8f8"/>
<rect x="170.7" y="310.64" width="27.2" height="5.57" fill="#80ff7a"/>
<rect x="197.6" y="310.64" width="27.2" height="5.57" fill="#aaff50"/>
<rect x="224.5" y="310.64" width="27.2" height="5.57" fill="#e4ff1c"/>
<rect x="251.4" y="310.64" width="27.2" height="5.57" fill="#f8ff0c"/>
<rect x="278.3" y="310.64" width="27.2" height="5.57" fill="#ff4444"/>
<rect x="305.2" y="310.64" width="27.2" height="5.57" fill="#ff4f4f"/>
<rect x="36.2" y="315.91" width="27.2" height="5.57" fill="#0000a5"/>
<rect x="63.1" y="315.91" width="81" height="5.57" fill="#0008be"/>
<rect x="143.8" y="315.91" width="27.2" height="5.57" fill="#00c8f8"/>
<rect x="170.7" y="315.91" width="27.2" height="5.57" fill="#95ff65"/>
<rect x="197.6" y="315.91" width="27.2" height="5.57" fill="#aaff50"/>
<rect x="224.5" y="315.91" width="27.2" height="5.57" fill="#e4ff1c"/>
<rect x="251.4" y="315.91" width="27.2" height="5.57" fill="#95ff65"/>
<rect x="278.3" y="315.91" width="27.2" height="5.57" fill="#ff4444"/>
<rect x="305.2" y="315.91" width="27.2" height="5.57" fill="#ff1816"/>
<rect x="36.2" y="321.19" width="27.2" height="5.58" fill="#0000a5"/>
<rect x="63.1" y="321.19" width="27.2" height="5.58" fill="#0004b2"/>
<rect x="90" y="321.19" width="27.2" height="5.58" fill="#0008be"/>
<rect x="116.9" y="321.19" width="27.2" height="5.58" fill="#0020c9"/>
<rect x="143.8" y="321.19" width="27.2" height="5.58" fill="#95ff65"/>
<rect x="170.7" y="321.19" width="54.1" height="5.58" fill="#80ff7a"/>
<rect x="224.5" y="321.19" width="27.2" height="5.58" fill="#d0ff2d"/>
<rect x="251.4" y="321.19" width="27.2" height="5.58" fill="#aaff50"/>
<rect x="278.3" y="321.19" width="27.2" height="5.58" fill="#ff1816"/>
<rect x="305.2" y="321.19" width="27.2" height="5.58" fill="#ff4f4f"/>
<rect x="36.2" y="326.46" width="54.1" height="5.57" fill="#0000a5"/>
<rect x="90" y="326.46" width="27.2" height="5.57" fill="#0004b2"/>
<rect x="116.9" y="326.46" width="27.2" height="5.57" fill="#4effac"/>
<rect x="143.8" y="326.46" width="27.2" height="5.57" fill="#11f5eb"/>
<rect x="170.7" y="326.46" width="27.2" height="5.57" fill="#4effac"/>
<rect x="197.6" y="326.46" width="81" height="5.57" fill="#aaff50"/>
<rect x="278.3" y="326.46" width="27.2" height="5.57" fill="#ff1816"/>
<rect x="305.2" y="326.46" width="27.2" height="5.57" fill="#ff2e2d"/>
<rect x="36.2" y="331.74" width="27.2" height="5.58" fill="#0000a5"/>
<rect x="63.1" y="331.74" width="27.2" height="5.58" fill="#0008be"/>
<rect x="90" y="331.74" width="54.1" height="5.58" fill="#02f0fc"/>
<rect x="143.8" y="331.74" width="27.2" height="5.58" fill="#0096ee"/>
<rect x="170.7" y="331.74" width="27.2" height="5.58" fill="#2ffccb"/>
<rect x="197.6" y="331.74" width="27.2" height="5.58" fill="#70ff8a"/>
<rect x="224.5" y="331.74" width="27.2" height="5.58" fill="#aaff50"/>
<rect x="251.4" y="331.74" width="27.2" height="5.58" fill="#ffa000"/>
<rect x="278.3" y="331.74" width="27.2" height="5.58" fill="#80ff7a"/>
<rect x="305.2" y="331.74" width="27.2" height="5.58" fill="#ff2e2d"/>
<rect x="36.2" y="337.01" width="27.2" height="5.57" fill="#0000a5"/>
<rect x="63.1" y="337.01" width="27.2" height="5.57" fill="#0008be"/>
<rect x="90" y="337.01" width="27.2" height="5.57" fill="#02f0fc"/>
<rect x="116.9" y="337.01" width="27.2" height="5.57" fill="#00aff3"/>
<rect x="143.8" y="337.01" width="27.2" height="5.57" fill="#0096ee"/>
<rect x="170.7" y="337.01" width="27.2" height="5.57" fill="#2ffccb"/>
<rect x="197.6" y="337.01" width="27.2" height="5.57" fill="#80ff7a"/>
<rect x="224.5" y="337.01" width="27.2" height="5.57" fill="#95ff65"/>
<rect x="251.4" y="337.01" width="27.2" height="5.57" fill="#80ff7a"/>
<rect x="278.3" y="337.01" width="27.2" height="5.57" fill="#d0ff2d"/>
<rect x="305.2" y="337.01" width="27.2" height="5.57" fill="#ff1816"/>
<rect x="36.2" y="342.29" width="27.2" height="5.57" fill="#0000a5"/>
<rect x="63.1" y="342.29" width="54.1" height="5.57" fill="#0008be"/>
<rect x="116.9" y="342.29" width="27.2" height="5.57" fill="#70ff8a"/>
<rect x="143.8" y="342.29" width="27.2" height="5.57" fill="#3effbc"/>
<rect x="170.7" y="342.29" width="27.2" height="5.57" fill="#4effac"/>
<rect x="197.6" y="342.29" width="27.2" height="5.57" fill="#95ff65"/>
<rect x="224.5" y="342.29" width="27.2" height="5.57" fill="#aaff50"/>
<rect x="251.4" y="342.29" width="27.2" height="5.57" fill="#f8ff0c"/>
<rect x="278.3" y="342.29" width="27.2" height="5.57" fill="#d0ff2d"/>
<rect x="305.2" y="342.29" width="27.2" height="5.57" fill="#ff1816"/>
<rect x="36.2" y="347.56" width="27.2" height="5.58" fill="#0000a5"/>
<rect x="63.1" y="347.56" width="27.2" height="5.58" fill="#0008be"/>
<rect x="90" y="347.56" width="27.2" height="5.58" fill="#0000a5"/>
<rect x="116.9" y="347.56" width="27.2" height="5.58" fill="#0008be"/>
<rect x="143.8" y="347.56" width="27.2" height="5.58" fill="#02f0fc"/>
<rect x="170.7" y="347.56" width="27.2" height="5.58" fill="#5fff9b"/>
<rect x="197.6" y="347.56" width="54.1" height="5.58" fill="#aaff50"/>
<rect x="251.4" y="347.56" width="27.2" height="5.58" fill="#d0ff2d"/>
<rect x="278.3" y="347.56" width="27.2" height="5.58" fill="#ff6e00"/>
<rect x="305.2" y="347.56" width="27.2" height="5.58" fill="#ff2e2d"/>
<rect x="36.2" y="352.84" width="81" height="5.57" fill="#0008be"/>
<rect x="116.9" y="352.84" width="27.2" height="5.57" fill="#11f5eb"/>
<rect x="143.8" y="352.84" width="27.2" height="5.57" fill="#bdff3e"/>
<rect x="170.7" y="352.84" width="27.2" height="5.57" fill="#70ff8a"/>
<rect x="197.6" y="352.84" width="27.2" height="5.57" fill="#80ff7a"/>
<rect x="224.5" y="352.84" width="27.2" height="5.57" fill="#ffc800"/>
<rect x="251.4" y="352.84" width="27.2" height="5.57" fill="#ff8700"/>
<rect x="278.3" y="352.84" width="27.2" height="5.57" fill="#ff4444"/>
<rect x="305.2" y="352.84" width="27.2" height="5.57" fill="#ff2e2d"/>
<rect x="36.2" y="358.11" width="81" height="5.58" fill="#0008be"/>
<rect x="116.9" y="358.11" width="27.2" height="5.58" fill="#01dcfa"/>
<rect x="143.8" y="358.11" width="27.2" height="5.58" fill="#bdff3e"/>
<rect x="170.7" y="358.11" width="27.2" height="5.58" fill="#80ff7a"/>
<rect x="197.6" y="358.11" width="27.2" height="5.58" fill="#95ff65"/>
<rect x="224.5" y="358.11" width="27.2" height="5.58" fill="#fcf606"/>
<rect x="251.4" y="358.11" width="27.2" height="5.58" fill="#e4ff1c"/>
<rect x="278.3" y="358.11" width="27.2" height="5.58" fill="#ff1816"/>
<rect x="305.2" y="358.11" width="27.2" height="5.58" fill="#ff4444"/>
<rect x="36.2" y="363.39" width="54.1" height="5.57" fill="#0008be"/>
<rect x="90" y="363.39" width="27.2" height="5.57" fill="#0020c9"/>
<rect x="116.9" y="363.39" width="27.2" height="5.57" fill="#006ee4"/>
<rect x="143.8" y="363.39" width="27.2" height="5.57" fill="#0082e9"/>
<rect x="170.7" y="363.39" width="27.2" height="5.57" fill="#5fff9b"/>
<rect x="197.6" y="363.39" width="27.2" height="5.57" fill="#95ff65"/>
<rect x="224.5" y="363.39" width="27.2" height="5.57" fill="#ff220b"/>
<rect x="251.4" y="363.39" width="27.2" height="5.57" fill="#ff1816"/>
<rect x="278.3" y="363.39" width="27.2" height="5.57" fill="#e4ff1c"/>
<rect x="305.2" y="363.39" width="27.2" height="5.57" fill="#f8ff0c"/>
<rect x="36.2" y="368.66" width="107.9" height="5.57" fill="#0008be"/>
<rect x="143.8" y="368.66" width="27.2" height="5.57" fill="#02f0fc"/>
<rect x="170.7" y="368.66" width="27.2" height="5.57" fill="#5fff9b"/>
<rect x="197.6" y="368.66" width="27.2" height="5.57" fill="#aaff50"/>
<rect x="224.5" y="368.66" width="27.2" height="5.57" fill="#ffa000"/>
<rect x="251.4" y="368.66" width="81" height="5.57" fill="#ff4444"/>
<rect x="36.2" y="373.94" width="27.2" height="5.58" fill="#0000a5"/>
<rect x="63.1" y="373.94" width="54.1" height="5.58" fill="#0008be"/>
<rect x="116.9" y="373.94" width="27.2" height="5.58" fill="#02f0fc"/>
<rect x="143.8" y="373.94" width="54.1" height="5.58" fill="#5fff9b"/>
<rect x="197.6" y="373.94" width="27.2" height="5.58" fill="#3effbc"/>
<rect x="224.5" y="373.94" width="27.2" height="5.58" fill="#ff1816"/>
<rect x="251.4" y="373.94" width="27.2" height="5.58" fill="#70ff8a"/>
<rect x="278.3" y="373.94" width="27.2" height="5.58" fill="#e4ff1c"/>
<rect x="305.2" y="373.94" width="27.2" height="5.58" fill="#ffa000"/>
<rect x="36.2" y="379.21" width="54.1" height="5.57" fill="#0008be"/>
<rect x="90" y="379.21" width="27.2" height="5.57" fill="#00c8f8"/>
<rect x="116.9" y="379.21" width="27.2" height="5.57" fill="#3effbc"/>
<rect x="143.8" y="379.21" width="54.1" height="5.57" fill="#5fff9b"/>
<rect x="197.6" y="379.21" width="27.2" height="5.57" fill="#ffda00"/>
<rect x="224.5" y="379.21" width="27.2" height="5.57" fill="#ff1816"/>
<rect x="251.4" y="379.21" width="27.2" height="5.57" fill="#d0ff2d"/>
<rect x="278.3" y="379.21" width="27.2" height="5.57" fill="#ff4444"/>
<rect x="305.2" y="379.21" width="27.2" height="5.57" fill="#d0ff2d"/>
<rect x="36.2" y="384.49" width="27.2" height="5.58" fill="#0037d4"/>
<rect x="63.1" y="384.49" width="27.2" height="5.58" fill="#0020c9"/>
<rect x="90" y="384.49" width="27.2" height="5.58" fill="#006ee4"/>
<rect x="116.9" y="384.49" width="27.2" height="5.58" fill="#3effbc"/>
<rect x="143.8" y="384.49" width="27.2" height="5.58" fill="#5fff9b"/>
<rect x="170.7" y="384.49" width="27.2" height="5.58" fill="#95ff65"/>
<rect x="197.6" y="384.49" width="27.2" height="5.58" fill="#3effbc"/>
<rect x="224.5" y="384.49" width="27.2" height="5.58" fill="#ff1816"/>
<rect x="251.4" y="384.49" width="54.1" height="5.58" fill="#ff4444"/>
<rect x="305.2" y="384.49" width="27.2" height="5.58" fill="#ff2e2d"/>
<rect x="36.2" y="389.76" width="27.2" height="5.57" fill="#000092"/>
<rect x="63.1" y="389.76" width="27.2" height="5.57" fill="#0020c9"/>
<rect x="90" y="389.76" width="27.2" height="5.57" fill="#0008be"/>
<rect x="116.9" y="389.76" width="27.2" height="5.57" fill="#11f5eb"/>
<rect x="143.8" y="389.76" width="27.2" height="5.57" fill="#ffa000"/>
<rect x="170.7" y="389.76" width="27.2" height="5.57" fill="#ffb400"/>
<rect x="197.6" y="389.76" width="27.2" height="5.57" fill="#ff220b"/>
<rect x="224.5" y="389.76" width="27.2" height="5.57" fill="#ff2d00"/>
<rect x="251.4" y="389.76" width="27.2" height="5.57" fill="#ff4444"/>
<rect x="278.3" y="389.76" width="27.2" height="5.57" fill="#ff2e2d"/>
<rect x="305.2" y="389.76" width="27.2" height="5.57" fill="#ffec00"/>
<rect x="36.2" y="395.04" width="27.2" height="5.57" fill="#0037d4"/>
<rect x="63.1" y="395.04" width="27.2" height="5.57" fill="#0008be"/>
<rect x="90" y="395.04" width="27.2" height="5.57" fill="#00c8f8"/>
<rect x="116.9" y="395.04" width="27.2" height="5.57" fill="#d0ff2d"/>
<rect x="143.8" y="395.04" width="27.2" height="5.57" fill="#ffec00"/>
<rect x="170.7" y="395.04" width="27.2" height="5.57" fill="#80ff7a"/>
<rect x="197.6" y="395.04" width="81" height="5.57" fill="#ff4444"/>
<rect x="278.3" y="395.04" width="27.2" height="5.57" fill="#ff5a5a"/>
<rect x="305.2" y="395.04" width="27.2" height="5.57" fill="#ff4444"/>
<rect x="36.2" y="400.31" width="27.2" height="5.58" fill="#0052dc"/>
<rect x="63.1" y="400.31" width="27.2" height="5.58" fill="#0096ee"/>
<rect x="90" y="400.31" width="27.2" height="5.58" fill="#01dcfa"/>
<rect x="116.9" y="400.31" width="27.2" height="5.58" fill="#d0ff2d"/>
<rect x="143.8" y="400.31" width="27.2" height="5.58" fill="#2ffccb"/>
<rect x="170.7" y="400.31" width="27.2" height="5.58" fill="#80ff7a"/>
<rect x="197.6" y="400.31" width="27.2" height="5.58" fill="#95ff65"/>
<rect x="224.5" y="400.31" width="27.2" height="5.58" fill="#ff220b"/>
<rect x="251.4" y="400.31" width="27.2" height="5.58" fill="#ff1816"/>
<rect x="278.3" y="400.31" width="27.2" height="5.58" fill="#ff4f4f"/>
<rect x="305.2" y="400.31" width="27.2" height="5.58" fill="#ff4444"/>
<rect x="36.2" y="405.59" width="27.2" height="5.57" fill="#0008be"/>
<rect x="63.1" y="405.59" width="27.2" height="5.57" fill="#0020c9"/>
<rect x="90" y="405.59" width="54.1" height="5.57" fill="#0008be"/>
<rect x="143.8" y="405.59" width="27.2" height="5.57" fill="#80ff7a"/>
<rect x="170.7" y="405.59" width="27.2" height="5.57" fill="#70ff8a"/>
<rect x="197.6" y="405.59" width="27.2" height="5.57" fill="#ff220b"/>
<rect x="224.5" y="405.59" width="27.2" height="5.57" fill="#bdff3e"/>
<rect x="251.4" y="405.59" width="27.2" height="5.57" fill="#f8ff0c"/>
<rect x="278.3" y="405.59" width="54.1" height="5.57" fill="#ff4f4f"/>
<rect x="36.2" y="410.86" width="107.9" height="5.58" fill="#0008be"/>
<rect x="143.8" y="410.86" width="27.2" height="5.58" fill="#4effac"/>
<rect x="170.7" y="410.86" width="27.2" height="5.58" fill="#5fff9b"/>
<rect x="197.6" y="410.86" width="27.2" height="5.58" fill="#bdff3e"/>
<rect x="224.5" y="410.86" width="27.2" height="5.58" fill="#ffa000"/>
<rect x="251.4" y="410.86" width="54.1" height="5.58" fill="#ff4444"/>
<rect x="305.2" y="410.86" width="27.2" height="5.58" fill="#ff4f4f"/>
<rect x="36.2" y="416.14" width="81" height="5.57" fill="#0008be"/>
<rect x="116.9" y="416.14" width="27.2" height="5.57" fill="#01dcfa"/>
<rect x="143.8" y="416.14" width="27.2" height="5.57" fill="#0082e9"/>
<rect x="170.7" y="416.14" width="27.2" height="5.57" fill="#5fff9b"/>
<rect x="197.6" y="416.14" width="27.2" height="5.57" fill="#bdff3e"/>
<rect x="224.5" y="416.14" width="27.2" height="5.57" fill="#f8ff0c"/>
<rect x="251.4" y="416.14" width="27.2" height="5.57" fill="#e4ff1c"/>
<rect x="278.3" y="416.14" width="27.2" height="5.57" fill="#ff4444"/>
<rect x="305.2" y="416.14" width="27.2" height="5.57" fill="#ff4f4f"/>
<rect x="36.2" y="421.41" width="54.1" height="5.57" fill="#0008be"/>
<rect x="90" y="421.41" width="27.2" height="5.57" fill="#01dcfa"/>
<rect x="116.9" y="421.41" width="27.2" height="5.57" fill="#0008be"/>
<rect x="143.8" y="421.41" width="27.2" height="5.57" fill="#95ff65"/>
<rect x="170.7" y="421.41" width="27.2" height="5.57" fill="#80ff7a"/>
<rect x="197.6" y="421.41" width="27.2" height="5.57" fill="#bdff3e"/>
<rect x="224.5" y="421.41" width="27.2" height="5.57" fill="#ffa000"/>
<rect x="251.4" y="421.41" width="27.2" height="5.57" fill="#ff2e2d"/>
<rect x="278.3" y="421.41" width="27.2" height="5.57" fill="#ff4444"/>
<rect x="305.2" y="421.41" width="27.2" height="5.57" fill="#ff4f4f"/>
<rect x="36.2" y="426.69" width="54.1" height="5.58" fill="#0008be"/>
<rect x="90" y="426.69" width="27.2" height="5.58" fill="#02f0fc"/>
<rect x="116.9" y="426.69" width="27.2" height="5.58" fill="#4effac"/>
<rect x="143.8" y="426.69" width="27.2" height="5.58" fill="#aaff50"/>
<rect x="170.7" y="426.69" width="27.2" height="5.58" fill="#95ff65"/>
<rect x="197.6" y="426.69" width="27.2" height="5.58" fill="#bdff3e"/>
<rect x="224.5" y="426.69" width="54.1" height="5.58" fill="#d0ff2d"/>
<rect x="278.3" y="426.69" width="27.2" height="5.58" fill="#ff1816"/>
<rect x="305.2" y="426.69" width="27.2" height="5.58" fill="#ff4444"/>
<rect x="36.2" y="431.96" width="27.2" height="5.58" fill="#0008be"/>
<rect x="63.1" y="431.96" width="27.2" height="5.58" fill="#0004b2"/>
<rect x="90" y="431.96" width="27.2" height="5.58" fill="#0008be"/>
<rect x="116.9" y="431.96" width="27.2" height="5.58" fill="#4effac"/>
<rect x="143.8" y="431.96" width="27.2" height="5.58" fill="#2ffccb"/>
<rect x="170.7" y="431.96" width="27.2" height="5.58" fill="#80ff7a"/>
<rect x="197.6" y="431.96" width="27.2" height="5.58" fill="#aaff50"/>
<rect x="224.5" y="431.96" width="27.2" height="5.58" fill="#bdff3e"/>
<rect x="251.4" y="431.96" width="27.2" height="5.58" fill="#d0ff2d"/>
<rect x="278.3" y="431.96" width="27.2" height="5.58" fill="#ff1816"/>
<rect x="305.2" y="431.96" width="27.2" height="5.58" fill="#ff4444"/>
<rect x="36.2" y="437.24" width="54.1" height="5.57" fill="#0008be"/>
<rect x="90" y="437.24" width="27.2" height="5.57" fill="#0020c9"/>
<rect x="116.9" y="437.24" width="27.2" height="5.57" fill="#80ff7a"/>
<rect x="143.8" y="437.24" width="54.1" height="5.57" fill="#5fff9b"/>
<rect x="197.6" y="437.24" width="54.1" height="5.57" fill="#aaff50"/>
<rect x="251.4" y="437.24" width="27.2" height="5.57" fill="#bdff3e"/>
<rect x="278.3" y="437.24" width="27.2" height="5.57" fill="#d0ff2d"/>
<rect x="305.2" y="437.24" width="27.2" height="5.57" fill="#ff4e00"/>
<rect x="36.2" y="442.51" width="81" height="5.57" fill="#0008be"/>
<rect x="116.9" y="442.51" width="27.2" height="5.57" fill="#70ff8a"/>
<rect x="143.8" y="442.51" width="27.2" height="5.57" fill="#3effbc"/>
<rect x="170.7" y="442.51" width="27.2" height="5.57" fill="#5fff9b"/>
<rect x="197.6" y="442.51" width="27.2" height="5.57" fill="#95ff65"/>
<rect x="224.5" y="442.51" width="27.2" height="5.57" fill="#aaff50"/>
<rect x="251.4" y="442.51" width="27.2" height="5.57" fill="#80ff7a"/>
<rect x="278.3" y="442.51" width="27.2" height="5.57" fill="#95ff65"/>
<rect x="305.2" y="442.51" width="27.2" height="5.57" fill="#ff1816"/>
<rect x="36.2" y="447.79" width="27.2" height="5.57" fill="#0008be"/>
<rect x="63.1" y="447.79" width="27.2" height="5.57" fill="#0000a5"/>
<rect x="90" y="447.79" width="81" height="5.57" fill="#0008be"/>
<rect x="170.7" y="447.79" width="54.1" height="5.57" fill="#2ffccb"/>
<rect x="224.5" y="447.79" width="27.2" height="5.57" fill="#95ff65"/>
<rect x="251.4" y="447.79" width="27.2" height="5.57" fill="#aaff50"/>
<rect x="278.3" y="447.79" width="27.2" height="5.57" fill="#d0ff2d"/>
<rect x="305.2" y="447.79" width="27.2" height="5.57" fill="#ff2d00"/>
<rect x="36.2" y="453.06" width="27.2" height="5.58" fill="#0008be"/>
<rect x="63.1" y="453.06" width="27.2" height="5.58" fill="#0000a5"/>
<rect x="90" y="453.06" width="27.2" height="5.58" fill="#0008be"/>
<rect x="116.9" y="453.06" width="27.2" height="5.58" fill="#3effbc"/>
<rect x="143.8" y="453.06" width="27.2" height="5.58" fill="#0008be"/>
<rect x="170.7" y="453.06" width="27.2" height="5.58" fill="#5fff9b"/>
<rect x="197.6" y="453.06" width="27.2" height="5.58" fill="#80ff7a"/>
<rect x="224.5" y="453.06" width="27.2" height="5.58" fill="#5fff9b"/>
<rect x="251.4" y="453.06" width="27.2" height="5.58" fill="#d0ff2d"/>
<rect x="278.3" y="453.06" width="27.2" height="5.58" fill="#ff1816"/>
<rect x="305.2" y="453.06" width="27.2" height="5.58" fill="#ff2e2d"/>
<rect x="36.2" y="458.34" width="81" height="5.58" fill="#0008be"/>
<rect x="116.9" y="458.34" width="27.2" height="5.58" fill="#006ee4"/>
<rect x="143.8" y="458.34" width="27.2" height="5.58" fill="#4effac"/>
<rect x="170.7" y="458.34" width="27.2" height="5.58" fill="#5fff9b"/>
<rect x="197.6" y="458.34" width="54.1" height="5.58" fill="#aaff50"/>
<rect x="251.4" y="458.34" width="27.2" height="5.58" fill="#f8ff0c"/>
<rect x="278.3" y="458.34" width="27.2" height="5.58" fill="#ff4444"/>
<rect x="305.2" y="458.34" width="27.2" height="5.58" fill="#ff2e2d"/>
<rect x="36.2" y="463.62" width="81" height="5.57" fill="#0008be"/>
<rect x="116.9" y="463.62" width="27.2" height="5.57" fill="#02f0fc"/>
<rect x="143.8" y="463.62" width="27.2" height="5.57" fill="#00c8f8"/>
<rect x="170.7" y="463.62" width="27.2" height="5.57" fill="#80ff7a"/>
<rect x="197.6" y="463.62" width="27.2" height="5.57" fill="#aaff50"/>
<rect x="224.5" y="463.62" width="27.2" height="5.57" fill="#fcf606"/>
<rect x="251.4" y="463.62" width="27.2" height="5.57" fill="#e4ff1c"/>
<rect x="278.3" y="463.62" width="27.2" height="5.57" fill="#bdff3e"/>
<rect x="305.2" y="463.62" width="27.2" height="5.57" fill="#ff4444"/>
<rect x="36.2" y="468.89" width="81" height="5.57" fill="#0008be"/>
<rect x="116.9" y="468.89" width="27.2" height="5.57" fill="#02f0fc"/>
<rect x="143.8" y="468.89" width="27.2" height="5.57" fill="#3effbc"/>
<rect x="170.7" y="468.89" width="27.2" height="5.57" fill="#5fff9b"/>
<rect x="197.6" y="468.89" width="27.2" height="5.57" fill="#ffa000"/>
<rect x="224.5" y="468.89" width="81" height="5.57" fill="#ff1816"/>
<rect x="305.2" y="468.89" width="27.2" height="5.57" fill="#ff4444"/>
<rect x="36.2" y="474.16" width="27.2" height="5.57" fill="#000092"/>
<rect x="63.1" y="474.16" width="27.2" height="5.57" fill="#0008be"/>
<rect x="90" y="474.16" width="27.2" height="5.57" fill="#01dcfa"/>
<rect x="116.9" y="474.16" width="27.2" height="5.57" fill="#02f0fc"/>
<rect x="143.8" y="474.16" width="27.2" height="5.57" fill="#3effbc"/>
<rect x="170.7" y="474.16" width="27.2" height="5.57" fill="#5fff9b"/>
<rect x="197.6" y="474.16" width="27.2" height="5.57" fill="#aaff50"/>
<rect x="224.5" y="474.16" width="27.2" height="5.57" fill="#ff1816"/>
<rect x="251.4" y="474.16" width="81" height="5.57" fill="#ff4444"/>
<rect x="36.2" y="479.44" width="27.2" height="5.58" fill="#0037d4"/>
<rect x="63.1" y="479.44" width="27.2" height="5.58" fill="#0096ee"/>
<rect x="90" y="479.44" width="27.2" height="5.58" fill="#01dcfa"/>
<rect x="116.9" y="479.44" width="27.2" height="5.58" fill="#02f0fc"/>
<rect x="143.8" y="479.44" width="27.2" height="5.58" fill="#4effac"/>
<rect x="170.7" y="479.44" width="27.2" height="5.58" fill="#ffa000"/>
<rect x="197.6" y="479.44" width="27.2" height="5.58" fill="#ff220b"/>
<rect x="224.5" y="479.44" width="27.2" height="5.58" fill="#ff2e2d"/>
<rect x="251.4" y="479.44" width="27.2" height="5.58" fill="#ff4444"/>
<rect x="278.3" y="479.44" width="27.2" height="5.58" fill="#ff1816"/>
<rect x="305.2" y="479.44" width="27.2" height="5.58" fill="#ffa000"/>
<rect x="36.2" y="484.71" width="27.2" height="5.58" fill="#0004b2"/>
<rect x="63.1" y="484.71" width="27.2" height="5.58" fill="#0096ee"/>
<rect x="90" y="484.71" width="27.2" height="5.58" fill="#01dcfa"/>
<rect x="116.9" y="484.71" width="27.2" height="5.58" fill="#70ff8a"/>
<rect x="143.8" y="484.71" width="27.2" height="5.58" fill="#fcf606"/>
<rect x="170.7" y="484.71" width="27.2" height="5.58" fill="#f8ff0c"/>
<rect x="197.6" y="484.71" width="27.2" height="5.58" fill="#ff2d00"/>
<rect x="224.5" y="484.71" width="27.2" height="5.58" fill="#ffa000"/>
<rect x="251.4" y="484.71" width="27.2" height="5.58" fill="#ff2e2d"/>
<rect x="278.3" y="484.71" width="27.2" height="5.58" fill="#ff4444"/>
<rect x="305.2" y="484.71" width="27.2" height="5.58" fill="#ff2e2d"/>
<rect x="36.2" y="489.99" width="27.2" height="5.57" fill="#0004b2"/>
<rect x="63.1" y="489.99" width="27.2" height="5.57" fill="#0008be"/>
<rect x="90" y="489.99" width="27.2" height="5.57" fill="#0096ee"/>
<rect x="116.9" y="489.99" width="27.2" height="5.57" fill="#aaff50"/>
<rect x="143.8" y="489.99" width="27.2" height="5.57" fill="#ffec00"/>
<rect x="170.7" y="489.99" width="27.2" height="5.57" fill="#ff2d00"/>
<rect x="197.6" y="489.99" width="27.2" height="5.57" fill="#ff4444"/>
<rect x="224.5" y="489.99" width="27.2" height="5.57" fill="#ff1816"/>
<rect x="251.4" y="489.99" width="54.1" height="5.57" fill="#ff4444"/>
<rect x="305.2" y="489.99" width="27.2" height="5.57" fill="#ff1816"/>
<rect x="36.2" y="495.26" width="27.2" height="5.57" fill="#0004b2"/>
<rect x="63.1" y="495.26" width="27.2" height="5.57" fill="#0008be"/>
<rect x="90" y="495.26" width="27.2" height="5.57" fill="#0082e9"/>
<rect x="116.9" y="495.26" width="27.2" height="5.57" fill="#2ffccb"/>
<rect x="143.8" y="495.26" width="27.2" height="5.57" fill="#20fada"/>
<rect x="170.7" y="495.26" width="27.2" height="5.57" fill="#ffec00"/>
<rect x="197.6" y="495.26" width="27.2" height="5.57" fill="#ffa000"/>
<rect x="224.5" y="495.26" width="27.2" height="5.57" fill="#ff8700"/>
<rect x="251.4" y="495.26" width="27.2" height="5.57" fill="#ff4444"/>
<rect x="278.3" y="495.26" width="27.2" height="5.57" fill="#ff2e2d"/>
<rect x="305.2" y="495.26" width="27.2" height="5.57" fill="#f8ff0c"/>
</g>
<path d="M39.28 500.3L39.28 497.3" stroke="#000" stroke-width="1.15"/>
<path d="M39.28 289.65L39.28 292.65" stroke="#000" stroke-width="1.15"/>
<path d="M43.18 500.3L43.18 497.3" stroke="#000" stroke-width="1.15"/>
<path d="M43.18 289.65L43.18 292.65" stroke="#000" stroke-width="1.15"/>
<path d="M46.62 500.3L46.62 497.3" stroke="#000" stroke-width="1.15"/>
<path d="M46.62 289.65L46.62 292.65" stroke="#000" stroke-width="1.15"/>
<path d="M49.7 500.3L49.7 494.8" stroke="#000" stroke-width="1.15"/>
<path d="M49.7 289.65L49.7 295.15" stroke="#000" stroke-width="1.15"/>
<path d="M69.94 500.3L69.94 497.3" stroke="#000" stroke-width="1.15"/>
<path d="M69.94 289.65L69.94 292.65" stroke="#000" stroke-width="1.15"/>
<path d="M81.79 500.3L81.79 497.3" stroke="#000" stroke-width="1.15"/>
<path d="M81.79 289.65L81.79 292.65" stroke="#000" stroke-width="1.15"/>
<path d="M90.19 500.3L90.19 497.3" stroke="#000" stroke-width="1.15"/>
<path d="M90.19 289.65L90.19 292.65" stroke="#000" stroke-width="1.15"/>
<path d="M96.71 500.3L96.71 497.3" stroke="#000" stroke-width="1.15"/>
<path d="M96.71 289.65L96.71 292.65" stroke="#000" stroke-width="1.15"/>
<path d="M102.03 500.3L102.03 497.3" stroke="#000" stroke-width="1.15"/>
<path d="M102.03 289.65L102.03 292.65" stroke="#000" stroke-width="1.15"/>
<path d="M106.53 500.3L106.53 497.3" stroke="#000" stroke-width="1.15"/>
<path d="M106.53 289.65L106.53 292.65" stroke="#000" stroke-width="1.15"/>
<path d="M110.43 500.3L110.43 497.3" stroke="#000" stroke-width="1.15"/>
<path d="M110.43 289.65L110.43 292.65" stroke="#000" stroke-width="1.15"/>
<path d="M113.87 500.3L113.87 497.3" stroke="#000" stroke-width="1.15"/>
<path d="M113.87 289.65L113.87 292.65" stroke="#000" stroke-width="1.15"/>
<path d="M116.95 500.3L116.95 494.8" stroke="#000" stroke-width="1.15"/>
<path d="M116.95 289.65L116.95 295.15" stroke="#000" stroke-width="1.15"/>
<path d="M137.19 500.3L137.19 497.3" stroke="#000" stroke-width="1.15"/>
<path d="M137.19 289.65L137.19 292.65" stroke="#000" stroke-width="1.15"/>
<path d="M149.04 500.3L149.04 497.3" stroke="#000" stroke-width="1.15"/>
<path d="M149.04 289.65L149.04 292.65" stroke="#000" stroke-width="1.15"/>
<path d="M157.44 500.3L157.44 497.3" stroke="#000" stroke-width="1.15"/>
<path d="M157.44 289.65L157.44 292.65" stroke="#000" stroke-width="1.15"/>
<path d="M163.96 500.3L163.96 497.3" stroke="#000" stroke-width="1.15"/>
<path d="M163.96 289.65L163.96 292.65" stroke="#000" stroke-width="1.15"/>
<path d="M169.28 500.3L169.28 497.3" stroke="#000" stroke-width="1.15"/>
<path d="M169.28 289.65L169.28 292.65" stroke="#000" stroke-width="1.15"/>
<path d="M173.78 500.3L173.78 497.3" stroke="#000" stroke-width="1.15"/>
<path d="M173.78 289.65L173.78 292.65" stroke="#000" stroke-width="1.15"/>
<path d="M177.68 500.3L177.68 497.3" stroke="#000" stroke-width="1.15"/>
<path d="M177.68 289.65L177.68 292.65" stroke="#000" stroke-width="1.15"/>
<path d="M181.12 500.3L181.12 497.3" stroke="#000" stroke-width="1.15"/>
<path d="M181.12 289.65L181.12 292.65" stroke="#000" stroke-width="1.15"/>
<path d="M184.2 500.3L184.2 494.8" stroke="#000" stroke-width="1.15"/>
<path d="M184.2 289.65L184.2 295.15" stroke="#000" stroke-width="1.15"/>
<path d="M204.44 500.3L204.44 497.3" stroke="#000" stroke-width="1.15"/>
<path d="M204.44 289.65L204.44 292.65" stroke="#000" stroke-width="1.15"/>
<path d="M216.29 500.3L216.29 497.3" stroke="#000" stroke-width="1.15"/>
<path d="M216.29 289.65L216.29 292.65" stroke="#000" stroke-width="1.15"/>
<path d="M224.69 500.3L224.69 497.3" stroke="#000" stroke-width="1.15"/>
<path d="M224.69 289.65L224.69 292.65" stroke="#000" stroke-width="1.15"/>
<path d="M231.21 500.3L231.21 497.3" stroke="#000" stroke-width="1.15"/>
<path d="M231.21 289.65L231.21 292.65" stroke="#000" stroke-width="1.15"/>
<path d="M236.53 500.3L236.53 497.3" stroke="#000" stroke-width="1.15"/>
<path d="M236.53 289.65L236.53 292.65" stroke="#000" stroke-width="1.15"/>
<path d="M241.03 500.3L241.03 497.3" stroke="#000" stroke-width="1.15"/>
<path d="M241.03 289.65L241.03 292.65" stroke="#000" stroke-width="1.15"/>
<path d="M244.93 500.3L244.93 497.3" stroke="#000" stroke-width="1.15"/>
<path d="M244.93 289.65L244.93 292.65" stroke="#000" stroke-width="1.15"/>
<path d="M248.37 500.3L248.37 497.3" stroke="#000" stroke-width="1.15"/>
<path d="M248.37 289.65L248.37 292.65" stroke="#000" stroke-width="1.15"/>
<path d="M251.45 500.3L251.45 494.8" stroke="#000" stroke-width="1.15"/>
<path d="M251.45 289.65L251.45 295.15" stroke="#000" stroke-width="1.15"/>
<path d="M271.69 500.3L271.69 497.3" stroke="#000" stroke-width="1.15"/>
<path d="M271.69 289.65L271.69 292.65" stroke="#000" stroke-width="1.15"/>
<path d="M283.54 500.3L283.54 497.3" stroke="#000" stroke-width="1.15"/>
<path d="M283.54 289.65L283.54 292.65" stroke="#000" stroke-width="1.15"/>
<path d="M291.94 500.3L291.94 497.3" stroke="#000" stroke-width="1.15"/>
<path d="M291.94 289.65L291.94 292.65" stroke="#000" stroke-width="1.15"/>
<path d="M298.46 500.3L298.46 497.3" stroke="#000" stroke-width="1.15"/>
<path d="M298.46 289.65L298.46 292.65" stroke="#000" stroke-width="1.15"/>
<path d="M303.78 500.3L303.78 497.3" stroke="#000" stroke-width="1.15"/>
<path d="M303.78 289.65L303.78 292.65" stroke="#000" stroke-width="1.15"/>
<path d="M308.28 500.3L308.28 497.3" stroke="#000" stroke-width="1.15"/>
<path d="M308.28 289.65L308.28 292.65" stroke="#000" stroke-width="1.15"/>
<path d="M312.18 500.3L312.18 497.3" stroke="#000" stroke-width="1.15"/>
<path d="M312.18 289.65L312.18 292.65" stroke="#000" stroke-width="1.15"/>
<path d="M315.62 500.3L315.62 497.3" stroke="#000" stroke-width="1.15"/>
<path d="M315.62 289.65L315.62 292.65" stroke="#000" stroke-width="1.15"/>
<path d="M318.7 500.3L318.7 494.8" stroke="#000" stroke-width="1.15"/>
<path d="M318.7 289.65L318.7 295.15" stroke="#000" stroke-width="1.15"/>
<path d="M36.2 497.9L41.7 497.9" stroke="#000" stroke-width="1.15"/>
<path d="M331.5 497.9L326 497.9" stroke="#000" stroke-width="1.15"/>
<path d="M36.2 464.32L39.2 464.32" stroke="#000" stroke-width="1.15"/>
<path d="M331.5 464.32L328.5 464.32" stroke="#000" stroke-width="1.15"/>
<path d="M36.2 430.74L41.7 430.74" stroke="#000" stroke-width="1.15"/>
<path d="M331.5 430.74L326 430.74" stroke="#000" stroke-width="1.15"/>
<path d="M36.2 397.16L39.2 397.16" stroke="#000" stroke-width="1.15"/>
<path d="M331.5 397.16L328.5 397.16" stroke="#000" stroke-width="1.15"/>
<path d="M36.2 363.58L41.7 363.58" stroke="#000" stroke-width="1.15"/>
<path d="M331.5 363.58L326 363.58" stroke="#000" stroke-width="1.15"/>
<path d="M36.2 330L39.2 330" stroke="#000" stroke-width="1.15"/>
<path d="M331.5 330L328.5 330" stroke="#000" stroke-width="1.15"/>
<path d="M36.2 296.42L41.7 296.42" stroke="#000" stroke-width="1.15"/>
<path d="M331.5 296.42L326 296.42" stroke="#000" stroke-width="1.15"/>
<rect x="36.2" y="289.65" width="295.3" height="210.65" fill="none" stroke="#000" stroke-width="1"/>
<linearGradient id="g3" x1="0" y1="1" x2="0" y2="0">
<stop offset="0.0012" stop-color="#ff6262"/>
<stop offset="0.1130" stop-color="#ff3232"/>
<stop offset="0.2224" stop-color="#ff0808"/>
<stop offset="0.2794" stop-color="#ff3000"/>
<stop offset="0.3365" stop-color="#ff8000"/>
<stop offset="0.4031" stop-color="#ffc000"/>
<stop offset="0.4697" stop-color="#ffff00"/>
<stop offset="0.5696" stop-color="#c0ff40"/>
<stop offset="0.6361" stop-color="#80ff80"/>
<stop offset="0.6980" stop-color="#50ffb0"/>
<stop offset="0.7341" stop-color="#20ffd8"/>
<stop offset="0.7707" stop-color="#00ffff"/>
<stop offset="0.7955" stop-color="#00d0ff"/>
<stop offset="0.8264" stop-color="#0090f0"/>
<stop offset="0.8625" stop-color="#0040e0"/>
<stop offset="0.8992" stop-color="#0010c8"/>
<stop offset="0.9420" stop-color="#0000a8"/>
<stop offset="1.0000" stop-color="#000088"/>
</linearGradient>
<rect x="331.5" y="289.65" width="20.5" height="210.65" fill="url(#g3)" stroke="#000" stroke-width="1"/>
<path d="M331.5 491L334.5 491" stroke="#000" stroke-width="1.15"/>
<path d="M352 491L349 491" stroke="#000" stroke-width="1.15"/>
<path d="M331.5 463.1L334.5 463.1" stroke="#000" stroke-width="1.15"/>
<path d="M352 463.1L349 463.1" stroke="#000" stroke-width="1.15"/>
<text transform="translate(363.8 463.4) rotate(-90) scale(1 1.12)" font-size="10.2" font-family="Liberation Sans, sans-serif" text-anchor="middle" stroke="#000" stroke-width="0.25" letter-spacing="0.25">2×10<tspan font-size="7" dy="-4.2">4</tspan></text>
<path d="M331.5 435.2L334.5 435.2" stroke="#000" stroke-width="1.15"/>
<path d="M352 435.2L349 435.2" stroke="#000" stroke-width="1.15"/>
<path d="M331.5 407.3L334.5 407.3" stroke="#000" stroke-width="1.15"/>
<path d="M352 407.3L349 407.3" stroke="#000" stroke-width="1.15"/>
<text transform="translate(363.8 407.6) rotate(-90) scale(1 1.12)" font-size="10.2" font-family="Liberation Sans, sans-serif" text-anchor="middle" stroke="#000" stroke-width="0.25" letter-spacing="0.25">4×10<tspan font-size="7" dy="-4.2">4</tspan></text>
<path d="M331.5 379.4L334.5 379.4" stroke="#000" stroke-width="1.15"/>
<path d="M352 379.4L349 379.4" stroke="#000" stroke-width="1.15"/>
<path d="M331.5 351.5L334.5 351.5" stroke="#000" stroke-width="1.15"/>
<path d="M352 351.5L349 351.5" stroke="#000" stroke-width="1.15"/>
<text transform="translate(363.8 351.8) rotate(-90) scale(1 1.12)" font-size="10.2" font-family="Liberation Sans, sans-serif" text-anchor="middle" stroke="#000" stroke-width="0.25" letter-spacing="0.25">6×10<tspan font-size="7" dy="-4.2">4</tspan></text>
<path d="M331.5 323.6L334.5 323.6" stroke="#000" stroke-width="1.15"/>
<path d="M352 323.6L349 323.6" stroke="#000" stroke-width="1.15"/>
<path d="M331.5 295.7L334.5 295.7" stroke="#000" stroke-width="1.15"/>
<path d="M352 295.7L349 295.7" stroke="#000" stroke-width="1.15"/>
<text transform="translate(363.8 296) rotate(-90) scale(1 1.12)" font-size="10.2" font-family="Liberation Sans, sans-serif" text-anchor="middle" stroke="#000" stroke-width="0.25" letter-spacing="0.25">8×10<tspan font-size="7" dy="-4.2">4</tspan></text>
<text transform="translate(373.3 300.45) rotate(-90) scale(1 1.1)" font-size="10" font-family="Liberation Serif, serif" text-anchor="middle" stroke="#000" stroke-width="0.25"><tspan font-style="italic">χ</tspan></text>
<text transform="translate(367.6 291.45) rotate(-90) scale(1 1.1)" font-size="7" font-family="Liberation Sans, sans-serif" text-anchor="middle" stroke="#000" stroke-width="0.25">2</text>
<circle cx="291" cy="293.6" r="4.8" fill="#000"/>
<text transform="translate(319.3 516.1) scale(1.28 1)" font-size="12.6" font-family="Liberation Serif, serif" text-anchor="middle" stroke="#000" stroke-width="0.2">1</text>
<text transform="translate(252.05 516.1) scale(1.28 1)" font-size="12.6" font-family="Liberation Serif, serif" text-anchor="middle" stroke="#000" stroke-width="0.2">0.1</text>
<text transform="translate(184.8 516.1) scale(1.28 1)" font-size="12.6" font-family="Liberation Serif, serif" text-anchor="middle" stroke="#000" stroke-width="0.2">0.01</text>
<text transform="translate(117.75 516.1) scale(1.1 1)" font-size="12.6" font-family="Liberation Serif, serif" text-anchor="middle" stroke="#000" stroke-width="0.2">10<tspan font-size="11" dy="-6.8" dx="1" letter-spacing="0">−3</tspan></text>
<text transform="translate(50.5 516.1) scale(1.1 1)" font-size="12.6" font-family="Liberation Serif, serif" text-anchor="middle" stroke="#000" stroke-width="0.2">10<tspan font-size="11" dy="-6.8" dx="1" letter-spacing="0">−4</tspan></text>
<text transform="translate(184.3 540.2) scale(1.12 1)" font-size="14.5" font-family="Liberation Serif, serif" text-anchor="middle" stroke="#000" stroke-width="0.25">q</text>
<text transform="translate(28.5 498.1) rotate(-90) scale(1.3 1.2)" font-size="12.5" font-family="Liberation Serif, serif" text-anchor="middle" stroke="#000" stroke-width="0.2">0</text>
<text transform="translate(28.5 430.94) rotate(-90) scale(1.3 1.2)" font-size="12.5" font-family="Liberation Serif, serif" text-anchor="middle" stroke="#000" stroke-width="0.2">2</text>
<text transform="translate(28.5 363.78) rotate(-90) scale(1.3 1.2)" font-size="12.5" font-family="Liberation Serif, serif" text-anchor="middle" stroke="#000" stroke-width="0.2">4</text>
<text transform="translate(28.5 296.62) rotate(-90) scale(1.3 1.2)" font-size="12.5" font-family="Liberation Serif, serif" text-anchor="middle" stroke="#000" stroke-width="0.2">6</text>
<text transform="translate(9.3 395.4) rotate(-90) scale(1 1.05)" font-size="12" font-family="Liberation Serif, serif" text-anchor="middle" stroke="#000" stroke-width="0.25" font-style="italic">θ</text>
</svg></body></html>
